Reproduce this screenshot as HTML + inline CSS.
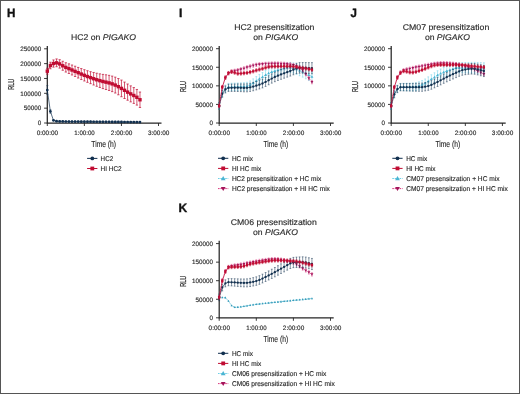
<!DOCTYPE html>
<html><head><meta charset="utf-8"><style>
html,body{margin:0;padding:0;background:#fff;}
body{width:520px;height:394px;overflow:hidden;}
svg{display:block;font-family:"Liberation Sans", sans-serif;will-change:transform;text-rendering:geometricPrecision;}
</style></head><body>
<svg width="520" height="394" viewBox="0 0 520 394">
<rect x="0.5" y="0.5" width="519" height="393" fill="#fff" stroke="#555" stroke-width="1"/>
<text x="6.9" y="16.6" font-size="12" font-weight="bold" fill="#111" stroke="#111" stroke-width="0.35" textLength="8.4" lengthAdjust="spacingAndGlyphs">H</text>
<text x="179.0" y="16.6" font-size="12" font-weight="bold" fill="#111" stroke="#111" stroke-width="0.35" textLength="3.4" lengthAdjust="spacingAndGlyphs">I</text>
<text x="350.4" y="16.6" font-size="12" font-weight="bold" fill="#111" stroke="#111" stroke-width="0.35" textLength="6.4" lengthAdjust="spacingAndGlyphs">J</text>
<text x="178.6" y="211.5" font-size="12" font-weight="bold" fill="#111" stroke="#111" stroke-width="0.35" textLength="8.7" lengthAdjust="spacingAndGlyphs">K</text>
<path d="M47.3,46.1V123.0H161.5" stroke="#262626" stroke-width="1.25" fill="none"/>
<path d="M44.099999999999994,123.00H47.3" stroke="#262626" stroke-width="0.9"/>
<text x="41.20" y="125.30" font-size="6.3" text-anchor="end" fill="#2b2b2b" stroke="#2b2b2b" stroke-width="0.15" >0</text>
<path d="M44.099999999999994,108.16H47.3" stroke="#262626" stroke-width="0.9"/>
<text x="41.20" y="110.46" font-size="6.3" text-anchor="end" fill="#2b2b2b" stroke="#2b2b2b" stroke-width="0.15" >50000</text>
<path d="M44.099999999999994,93.32H47.3" stroke="#262626" stroke-width="0.9"/>
<text x="41.20" y="95.62" font-size="6.3" text-anchor="end" fill="#2b2b2b" stroke="#2b2b2b" stroke-width="0.15" >100000</text>
<path d="M44.099999999999994,78.48H47.3" stroke="#262626" stroke-width="0.9"/>
<text x="41.20" y="80.78" font-size="6.3" text-anchor="end" fill="#2b2b2b" stroke="#2b2b2b" stroke-width="0.15" >150000</text>
<path d="M44.099999999999994,63.64H47.3" stroke="#262626" stroke-width="0.9"/>
<text x="41.20" y="65.94" font-size="6.3" text-anchor="end" fill="#2b2b2b" stroke="#2b2b2b" stroke-width="0.15" >200000</text>
<path d="M44.099999999999994,48.80H47.3" stroke="#262626" stroke-width="0.9"/>
<text x="41.20" y="51.10" font-size="6.3" text-anchor="end" fill="#2b2b2b" stroke="#2b2b2b" stroke-width="0.15" >250000</text>
<path d="M47.30,123.0V126.0" stroke="#262626" stroke-width="0.9"/>
<text x="47.40" y="134.80" font-size="6.3" text-anchor="middle" fill="#2b2b2b" stroke="#2b2b2b" stroke-width="0.15" textLength="21.5" lengthAdjust="spacingAndGlyphs" >0:00:00</text>
<path d="M84.37,123.0V126.0" stroke="#262626" stroke-width="0.9"/>
<text x="84.52" y="134.80" font-size="6.3" text-anchor="middle" fill="#2b2b2b" stroke="#2b2b2b" stroke-width="0.15" textLength="20.5" lengthAdjust="spacingAndGlyphs" >1:00:00</text>
<path d="M121.44,123.0V126.0" stroke="#262626" stroke-width="0.9"/>
<text x="121.59" y="134.80" font-size="6.3" text-anchor="middle" fill="#2b2b2b" stroke="#2b2b2b" stroke-width="0.15" textLength="21.5" lengthAdjust="spacingAndGlyphs" >2:00:00</text>
<path d="M158.51,123.0V126.0" stroke="#262626" stroke-width="0.9"/>
<text x="158.66" y="134.80" font-size="6.3" text-anchor="middle" fill="#2b2b2b" stroke="#2b2b2b" stroke-width="0.15" textLength="21.5" lengthAdjust="spacingAndGlyphs" >3:00:00</text>
<text x="71" y="40.4" font-size="8.3" fill="#2b2b2b" stroke="#2b2b2b" stroke-width="0.15" textLength="65" lengthAdjust="spacingAndGlyphs">HC2 on <tspan font-style="italic">PIGAKO</tspan></text>
<text x="103.70" y="146.80" font-size="8.8" text-anchor="middle" fill="#2b2b2b" stroke="#2b2b2b" stroke-width="0.15" textLength="24.8" lengthAdjust="spacingAndGlyphs" >Time (h)</text>
<text transform="translate(14.30,84.30) rotate(-90) scale(0.64,1)" font-size="8.6" text-anchor="middle" fill="#2b2b2b" stroke="#2b2b2b" stroke-width="0.25">RLU</text>
<path d="M47.30,68.21V74.15M46.15,68.21H48.45M46.15,74.15H48.45M50.39,62.24V68.79M49.24,62.24H51.54M49.24,68.79H51.54M53.48,59.95V67.12M52.33,59.95H54.63M52.33,67.12H54.63M56.57,58.94V66.73M55.42,58.94H57.72M55.42,66.73H57.72M59.66,59.70V68.11M58.51,59.70H60.81M58.51,68.11H60.81M62.75,61.28V70.25M61.60,61.28H63.90M61.60,70.25H63.90M65.83,62.74V72.04M64.68,62.74H66.98M64.68,72.04H66.98M68.92,63.85V73.48M67.77,63.85H70.07M67.77,73.48H70.07M72.01,65.02V74.98M70.86,65.02H73.16M70.86,74.98H73.16M75.10,66.21V76.50M73.95,66.21H76.25M73.95,76.50H76.25M78.19,67.41V78.02M77.04,67.41H79.34M77.04,78.02H79.34M81.28,68.59V79.54M80.13,68.59H82.43M80.13,79.54H82.43M84.37,69.69V80.97M83.22,69.69H85.52M83.22,80.97H85.52M87.46,70.72V82.33M86.31,70.72H88.61M86.31,82.33H88.61M90.55,71.67V83.65M89.40,71.67H91.70M89.40,83.65H91.70M93.64,72.47V85.01M92.49,72.47H94.79M92.49,85.01H94.79M96.73,73.21V86.29M95.58,73.21H97.88M95.58,86.29H97.88M99.82,73.85V87.48M98.67,73.85H100.97M98.67,87.48H100.97M102.91,74.39V88.58M101.75,74.39H104.06M101.75,88.58H104.06M105.99,74.79V89.52M104.84,74.79H107.14M104.84,89.52H107.14M109.08,75.33V90.47M107.93,75.33H110.23M107.93,90.47H110.23M112.17,76.12V91.63M111.02,76.12H113.32M111.02,91.63H113.32M115.26,77.15V93.03M114.11,77.15H116.41M114.11,93.03H116.41M118.35,78.54V94.79M117.20,78.54H119.50M117.20,94.79H119.50M121.44,80.09V96.71M120.29,80.09H122.59M120.29,96.71H122.59M124.53,82.09V98.51M123.38,82.09H125.68M123.38,98.51H125.68M127.62,84.01V100.23M126.47,84.01H128.77M126.47,100.23H128.77M130.71,85.86V101.89M129.56,85.86H131.86M129.56,101.89H131.86M133.80,87.57V103.40M132.65,87.57H134.95M132.65,103.40H134.95M136.89,89.46V105.09M135.74,89.46H138.04M135.74,105.09H138.04M139.97,92.04V107.48M138.82,92.04H141.12M138.82,107.48H141.12" stroke="#c00c32" stroke-width="0.7" fill="none"/>
<path d="M47.30,71.18L50.39,65.52L53.48,63.54L56.57,62.84L59.66,63.90L62.75,65.77L65.83,67.39L68.92,68.67L72.01,70.00L75.10,71.36L78.19,72.71L81.28,74.06L84.37,75.33L87.46,76.53L90.55,77.66L93.64,78.74L96.73,79.75L99.82,80.66L102.91,81.48L105.99,82.16L109.08,82.90L112.17,83.87L115.26,85.09L118.35,86.66L121.44,88.40L124.53,90.30L127.62,92.12L130.71,93.88L133.80,95.49L136.89,97.27L139.97,99.76" stroke="#c00c32" stroke-width="0.9" fill="none"/>
<rect x="45.60" y="69.48" width="3.40" height="3.40" fill="#c00c32"/><rect x="48.69" y="63.82" width="3.40" height="3.40" fill="#c00c32"/><rect x="51.78" y="61.84" width="3.40" height="3.40" fill="#c00c32"/><rect x="54.87" y="61.14" width="3.40" height="3.40" fill="#c00c32"/><rect x="57.96" y="62.20" width="3.40" height="3.40" fill="#c00c32"/><rect x="61.05" y="64.07" width="3.40" height="3.40" fill="#c00c32"/><rect x="64.13" y="65.69" width="3.40" height="3.40" fill="#c00c32"/><rect x="67.22" y="66.97" width="3.40" height="3.40" fill="#c00c32"/><rect x="70.31" y="68.30" width="3.40" height="3.40" fill="#c00c32"/><rect x="73.40" y="69.66" width="3.40" height="3.40" fill="#c00c32"/><rect x="76.49" y="71.01" width="3.40" height="3.40" fill="#c00c32"/><rect x="79.58" y="72.36" width="3.40" height="3.40" fill="#c00c32"/><rect x="82.67" y="73.63" width="3.40" height="3.40" fill="#c00c32"/><rect x="85.76" y="74.83" width="3.40" height="3.40" fill="#c00c32"/><rect x="88.85" y="75.96" width="3.40" height="3.40" fill="#c00c32"/><rect x="91.94" y="77.04" width="3.40" height="3.40" fill="#c00c32"/><rect x="95.03" y="78.05" width="3.40" height="3.40" fill="#c00c32"/><rect x="98.12" y="78.96" width="3.40" height="3.40" fill="#c00c32"/><rect x="101.20" y="79.78" width="3.40" height="3.40" fill="#c00c32"/><rect x="104.29" y="80.46" width="3.40" height="3.40" fill="#c00c32"/><rect x="107.38" y="81.20" width="3.40" height="3.40" fill="#c00c32"/><rect x="110.47" y="82.17" width="3.40" height="3.40" fill="#c00c32"/><rect x="113.56" y="83.39" width="3.40" height="3.40" fill="#c00c32"/><rect x="116.65" y="84.96" width="3.40" height="3.40" fill="#c00c32"/><rect x="119.74" y="86.70" width="3.40" height="3.40" fill="#c00c32"/><rect x="122.83" y="88.60" width="3.40" height="3.40" fill="#c00c32"/><rect x="125.92" y="90.42" width="3.40" height="3.40" fill="#c00c32"/><rect x="129.01" y="92.18" width="3.40" height="3.40" fill="#c00c32"/><rect x="132.10" y="93.79" width="3.40" height="3.40" fill="#c00c32"/><rect x="135.19" y="95.57" width="3.40" height="3.40" fill="#c00c32"/><rect x="138.28" y="98.06" width="3.40" height="3.40" fill="#c00c32"/>
<path d="M47.30,85.60V94.51M46.30,85.60H48.30M46.30,94.51H48.30M50.39,109.69V113.26M49.39,109.69H51.39M49.39,113.26H51.39M53.48,119.73V120.92M52.48,119.73H54.48M52.48,120.92H54.48M56.57,120.63V121.81M55.57,120.63H57.57M55.57,121.81H57.57M59.66,120.78V121.97M58.66,120.78H60.66M58.66,121.97H60.66M62.75,120.87V122.06M61.75,120.87H63.75M61.75,122.06H63.75M65.83,120.92V122.11M64.83,120.92H66.83M64.83,122.11H66.83M68.92,120.96V122.15M67.92,120.96H69.92M67.92,122.15H69.92M72.01,120.99V122.17M71.01,120.99H73.01M71.01,122.17H73.01M75.10,121.01V122.20M74.10,121.01H76.10M74.10,122.20H76.10M78.19,121.03V122.22M77.19,121.03H79.19M77.19,122.22H79.19M81.28,121.05V122.24M80.28,121.05H82.28M80.28,122.24H82.28M84.37,121.07V122.26M83.37,121.07H85.37M83.37,122.26H85.37M87.46,121.10V122.28M86.46,121.10H88.46M86.46,122.28H88.46M90.55,121.12V122.31M89.55,121.12H91.55M89.55,122.31H91.55M93.64,121.14V122.33M92.64,121.14H94.64M92.64,122.33H94.64M96.73,121.17V122.36M95.73,121.17H97.73M95.73,122.36H97.73M99.82,121.19V122.38M98.82,121.19H100.82M98.82,122.38H100.82M102.91,121.22V122.41M101.91,121.22H103.91M101.91,122.41H103.91M105.99,121.24V122.43M104.99,121.24H106.99M104.99,122.43H106.99M109.08,121.27V122.46M108.08,121.27H110.08M108.08,122.46H110.08M112.17,121.29V122.48M111.17,121.29H113.17M111.17,122.48H113.17M115.26,121.32V122.51M114.26,121.32H116.26M114.26,122.51H116.26M118.35,121.34V122.53M117.35,121.34H119.35M117.35,122.53H119.35M121.44,121.37V122.55M120.44,121.37H122.44M120.44,122.55H122.44M124.53,121.39V122.58M123.53,121.39H125.53M123.53,122.58H125.53M127.62,121.42V122.60M126.62,121.42H128.62M126.62,122.60H128.62M130.71,121.44V122.63M129.71,121.44H131.71M129.71,122.63H131.71M133.80,121.47V122.65M132.80,121.47H134.80M132.80,122.65H134.80M136.89,121.49V122.68M135.89,121.49H137.89M135.89,122.68H137.89M139.97,121.52V122.70M138.97,121.52H140.97M138.97,122.70H140.97" stroke="#12304f" stroke-width="0.5" fill="none"/>
<path d="M47.30,90.06L50.39,111.47L53.48,120.32L56.57,121.22L59.66,121.38L62.75,121.47L65.83,121.52L68.92,121.55L72.01,121.58L75.10,121.60L78.19,121.62L81.28,121.64L84.37,121.66L87.46,121.69L90.55,121.71L93.64,121.74L96.73,121.76L99.82,121.79L102.91,121.81L105.99,121.84L109.08,121.86L112.17,121.89L115.26,121.91L118.35,121.94L121.44,121.96L124.53,121.99L127.62,122.01L130.71,122.04L133.80,122.06L136.89,122.08L139.97,122.11" stroke="#12304f" stroke-width="0.7" fill="none"/>
<circle cx="47.30" cy="90.06" r="1.35" fill="#12304f"/><circle cx="50.39" cy="111.47" r="1.35" fill="#12304f"/><circle cx="53.48" cy="120.32" r="1.35" fill="#12304f"/><circle cx="56.57" cy="121.22" r="1.35" fill="#12304f"/><circle cx="59.66" cy="121.38" r="1.35" fill="#12304f"/><circle cx="62.75" cy="121.47" r="1.35" fill="#12304f"/><circle cx="65.83" cy="121.52" r="1.35" fill="#12304f"/><circle cx="68.92" cy="121.55" r="1.35" fill="#12304f"/><circle cx="72.01" cy="121.58" r="1.35" fill="#12304f"/><circle cx="75.10" cy="121.60" r="1.35" fill="#12304f"/><circle cx="78.19" cy="121.62" r="1.35" fill="#12304f"/><circle cx="81.28" cy="121.64" r="1.35" fill="#12304f"/><circle cx="84.37" cy="121.66" r="1.35" fill="#12304f"/><circle cx="87.46" cy="121.69" r="1.35" fill="#12304f"/><circle cx="90.55" cy="121.71" r="1.35" fill="#12304f"/><circle cx="93.64" cy="121.74" r="1.35" fill="#12304f"/><circle cx="96.73" cy="121.76" r="1.35" fill="#12304f"/><circle cx="99.82" cy="121.79" r="1.35" fill="#12304f"/><circle cx="102.91" cy="121.81" r="1.35" fill="#12304f"/><circle cx="105.99" cy="121.84" r="1.35" fill="#12304f"/><circle cx="109.08" cy="121.86" r="1.35" fill="#12304f"/><circle cx="112.17" cy="121.89" r="1.35" fill="#12304f"/><circle cx="115.26" cy="121.91" r="1.35" fill="#12304f"/><circle cx="118.35" cy="121.94" r="1.35" fill="#12304f"/><circle cx="121.44" cy="121.96" r="1.35" fill="#12304f"/><circle cx="124.53" cy="121.99" r="1.35" fill="#12304f"/><circle cx="127.62" cy="122.01" r="1.35" fill="#12304f"/><circle cx="130.71" cy="122.04" r="1.35" fill="#12304f"/><circle cx="133.80" cy="122.06" r="1.35" fill="#12304f"/><circle cx="136.89" cy="122.08" r="1.35" fill="#12304f"/><circle cx="139.97" cy="122.11" r="1.35" fill="#12304f"/>
<path d="M87.1,158.40H97.39999999999999" stroke="#12304f" stroke-width="1"/>
<circle cx="92.30" cy="158.40" r="1.9" fill="#12304f"/>
<text x="100.60" y="160.80" font-size="6.9" text-anchor="start" fill="#2b2b2b" stroke="#2b2b2b" stroke-width="0.15" textLength="12.6" lengthAdjust="spacingAndGlyphs" >HC2</text>
<path d="M87.1,168.50H97.39999999999999" stroke="#c00c32" stroke-width="1"/>
<rect x="90.40" y="166.60" width="3.80" height="3.80" fill="#c00c32"/>
<text x="100.60" y="170.90" font-size="6.9" text-anchor="start" fill="#2b2b2b" stroke="#2b2b2b" stroke-width="0.15" textLength="21.1" lengthAdjust="spacingAndGlyphs" >HI HC2</text>
<path d="M219.2,46.0V123.0H333.7" stroke="#262626" stroke-width="1.25" fill="none"/>
<path d="M216.0,123.00H219.2" stroke="#262626" stroke-width="0.9"/>
<text x="213.00" y="125.30" font-size="6.3" text-anchor="end" fill="#2b2b2b" stroke="#2b2b2b" stroke-width="0.15" >0</text>
<path d="M216.0,104.42H219.2" stroke="#262626" stroke-width="0.9"/>
<text x="213.00" y="106.72" font-size="6.3" text-anchor="end" fill="#2b2b2b" stroke="#2b2b2b" stroke-width="0.15" >50000</text>
<path d="M216.0,85.85H219.2" stroke="#262626" stroke-width="0.9"/>
<text x="213.00" y="88.15" font-size="6.3" text-anchor="end" fill="#2b2b2b" stroke="#2b2b2b" stroke-width="0.15" >100000</text>
<path d="M216.0,67.28H219.2" stroke="#262626" stroke-width="0.9"/>
<text x="213.00" y="69.58" font-size="6.3" text-anchor="end" fill="#2b2b2b" stroke="#2b2b2b" stroke-width="0.15" >150000</text>
<path d="M216.0,48.70H219.2" stroke="#262626" stroke-width="0.9"/>
<text x="213.00" y="51.00" font-size="6.3" text-anchor="end" fill="#2b2b2b" stroke="#2b2b2b" stroke-width="0.15" >200000</text>
<path d="M219.20,123.0V126.0" stroke="#262626" stroke-width="0.9"/>
<text x="219.30" y="134.80" font-size="6.3" text-anchor="middle" fill="#2b2b2b" stroke="#2b2b2b" stroke-width="0.15" textLength="21.5" lengthAdjust="spacingAndGlyphs" >0:00:00</text>
<path d="M256.30,123.0V126.0" stroke="#262626" stroke-width="0.9"/>
<text x="256.45" y="134.80" font-size="6.3" text-anchor="middle" fill="#2b2b2b" stroke="#2b2b2b" stroke-width="0.15" textLength="20.5" lengthAdjust="spacingAndGlyphs" >1:00:00</text>
<path d="M293.40,123.0V126.0" stroke="#262626" stroke-width="0.9"/>
<text x="293.55" y="134.80" font-size="6.3" text-anchor="middle" fill="#2b2b2b" stroke="#2b2b2b" stroke-width="0.15" textLength="21.5" lengthAdjust="spacingAndGlyphs" >2:00:00</text>
<path d="M330.50,123.0V126.0" stroke="#262626" stroke-width="0.9"/>
<text x="330.65" y="134.80" font-size="6.3" text-anchor="middle" fill="#2b2b2b" stroke="#2b2b2b" stroke-width="0.15" textLength="21.5" lengthAdjust="spacingAndGlyphs" >3:00:00</text>
<text x="274.30" y="30.40" font-size="8.3" text-anchor="middle" fill="#2b2b2b" stroke="#2b2b2b" stroke-width="0.15" textLength="80.2" lengthAdjust="spacingAndGlyphs" >HC2 presensitization</text>
<text x="275.80" y="40.00" font-size="8.3" text-anchor="middle" fill="#2b2b2b" stroke="#2b2b2b" stroke-width="0.15" textLength="45" lengthAdjust="spacingAndGlyphs">on <tspan font-style="italic">PIGAKO</tspan></text>
<text x="275.80" y="146.80" font-size="8.8" text-anchor="middle" fill="#2b2b2b" stroke="#2b2b2b" stroke-width="0.15" textLength="24.8" lengthAdjust="spacingAndGlyphs" >Time (h)</text>
<text transform="translate(186.10,86.50) rotate(-90) scale(0.64,1)" font-size="8.6" text-anchor="middle" fill="#2b2b2b" stroke="#2b2b2b" stroke-width="0.25">RLU</text>
<path d="M219.20,102.57V109.25M218.30,102.57H220.10M218.30,109.25H220.10M222.29,89.65V96.48M221.39,89.65H223.19M221.39,96.48H223.19M225.38,85.08V92.06M224.48,85.08H226.28M224.48,92.06H226.28M228.47,83.39V90.52M227.57,83.39H229.38M227.57,90.52H229.38M231.57,83.20V90.49M230.67,83.20H232.47M230.67,90.49H232.47M234.66,83.07V90.50M233.76,83.07H235.56M233.76,90.50H235.56M237.75,82.97V90.54M236.85,82.97H238.65M236.85,90.54H238.65M240.84,82.85V90.58M239.94,82.85H241.74M239.94,90.58H241.74M243.93,82.70V90.58M243.03,82.70H244.83M243.03,90.58H244.83M247.02,82.28V90.31M246.12,82.28H247.92M246.12,90.31H247.92M250.12,80.91V89.08M249.22,80.91H251.02M249.22,89.08H251.02M253.21,78.88V87.20M252.31,78.88H254.11M252.31,87.20H254.11M256.30,76.60V85.07M255.40,76.60H257.20M255.40,85.07H257.20M259.39,74.47V83.09M258.49,74.47H260.29M258.49,83.09H260.29M262.48,72.57V81.33M261.58,72.57H263.38M261.58,81.33H263.38M265.57,70.56V79.47M264.68,70.56H266.47M264.68,79.47H266.47M268.67,68.70V77.76M267.77,68.70H269.57M267.77,77.76H269.57M271.76,67.27V76.48M270.86,67.27H272.66M270.86,76.48H272.66M274.85,66.19V75.55M273.95,66.19H275.75M273.95,75.55H275.75M277.94,65.28V74.79M277.04,65.28H278.84M277.04,74.79H278.84M281.03,64.41V74.07M280.13,64.41H281.93M280.13,74.07H281.93M284.12,63.44V73.25M283.23,63.44H285.02M283.23,73.25H285.02M287.22,62.64V72.59M286.32,62.64H288.12M286.32,72.59H288.12M290.31,62.35V72.46M289.41,62.35H291.21M289.41,72.46H291.21M293.40,62.87V73.12M292.50,62.87H294.30M292.50,73.12H294.30M296.49,63.94V74.34M295.59,63.94H297.39M295.59,74.34H297.39M299.58,65.20V75.75M298.68,65.20H300.48M298.68,75.75H300.48M302.68,66.44V77.14M301.78,66.44H303.57M301.78,77.14H303.57M305.77,67.93V78.78M304.87,67.93H306.67M304.87,78.78H306.67M308.86,69.55V80.55M307.96,69.55H309.76M307.96,80.55H309.76M311.95,71.14V82.28M311.05,71.14H312.85M311.05,82.28H312.85" stroke="#6ccfe6" stroke-width="0.5" fill="none"/>
<path d="M219.20,105.91L222.29,93.06L225.38,88.57L228.47,86.96L231.57,86.84L234.66,86.79L237.75,86.75L240.84,86.72L243.93,86.64L247.02,86.29L250.12,84.99L253.21,83.04L256.30,80.83L259.39,78.78L262.48,76.95L265.57,75.01L268.67,73.23L271.76,71.87L274.85,70.87L277.94,70.03L281.03,69.24L284.12,68.35L287.22,67.61L290.31,67.41L293.40,67.99L296.49,69.14L299.58,70.48L302.68,71.79L305.77,73.35L308.86,75.05L311.95,76.71" stroke="#6ccfe6" stroke-width="0.7" fill="none" stroke-dasharray="1.5,1"/>
<path d="M219.20,104.47L220.64,106.95L217.76,106.95Z" fill="#4ab4d2"/><path d="M222.29,91.63L223.73,94.10L220.85,94.10Z" fill="#4ab4d2"/><path d="M225.38,87.13L226.82,89.61L223.95,89.61Z" fill="#4ab4d2"/><path d="M228.47,85.52L229.91,87.99L227.04,87.99Z" fill="#4ab4d2"/><path d="M231.57,85.41L233.00,87.88L230.13,87.88Z" fill="#4ab4d2"/><path d="M234.66,85.35L236.10,87.82L233.22,87.82Z" fill="#4ab4d2"/><path d="M237.75,85.32L239.19,87.79L236.31,87.79Z" fill="#4ab4d2"/><path d="M240.84,85.28L242.28,87.75L239.40,87.75Z" fill="#4ab4d2"/><path d="M243.93,85.20L245.37,87.68L242.50,87.68Z" fill="#4ab4d2"/><path d="M247.02,84.86L248.46,87.33L245.59,87.33Z" fill="#4ab4d2"/><path d="M250.12,83.56L251.55,86.03L248.68,86.03Z" fill="#4ab4d2"/><path d="M253.21,81.60L254.65,84.08L251.77,84.08Z" fill="#4ab4d2"/><path d="M256.30,79.40L257.74,81.87L254.86,81.87Z" fill="#4ab4d2"/><path d="M259.39,77.34L260.83,79.81L257.95,79.81Z" fill="#4ab4d2"/><path d="M262.48,75.51L263.92,77.98L261.05,77.98Z" fill="#4ab4d2"/><path d="M265.57,73.58L267.01,76.05L264.14,76.05Z" fill="#4ab4d2"/><path d="M268.67,71.80L270.10,74.27L267.23,74.27Z" fill="#4ab4d2"/><path d="M271.76,70.44L273.20,72.91L270.32,72.91Z" fill="#4ab4d2"/><path d="M274.85,69.43L276.29,71.91L273.41,71.91Z" fill="#4ab4d2"/><path d="M277.94,68.60L279.38,71.07L276.50,71.07Z" fill="#4ab4d2"/><path d="M281.03,67.80L282.47,70.28L279.60,70.28Z" fill="#4ab4d2"/><path d="M284.12,66.91L285.56,69.38L282.69,69.38Z" fill="#4ab4d2"/><path d="M287.22,66.18L288.65,68.65L285.78,68.65Z" fill="#4ab4d2"/><path d="M290.31,65.97L291.75,68.44L288.87,68.44Z" fill="#4ab4d2"/><path d="M293.40,66.56L294.84,69.03L291.96,69.03Z" fill="#4ab4d2"/><path d="M296.49,67.70L297.93,70.17L295.05,70.17Z" fill="#4ab4d2"/><path d="M299.58,69.04L301.02,71.51L298.15,71.51Z" fill="#4ab4d2"/><path d="M302.68,70.36L304.11,72.83L301.24,72.83Z" fill="#4ab4d2"/><path d="M305.77,71.92L307.20,74.39L304.33,74.39Z" fill="#4ab4d2"/><path d="M308.86,73.61L310.30,76.08L307.42,76.08Z" fill="#4ab4d2"/><path d="M311.95,75.27L313.39,77.75L310.51,77.75Z" fill="#4ab4d2"/>
<path d="M219.20,104.24V107.58M218.30,104.24H220.10M218.30,107.58H220.10M222.29,85.61V88.96M221.39,85.61H223.19M221.39,88.96H223.19M225.38,76.09V79.44M224.48,76.09H226.28M224.48,79.44H226.28M228.47,71.44V74.78M227.57,71.44H229.38M227.57,74.78H229.38M231.57,69.97V73.32M230.67,69.97H232.47M230.67,73.32H232.47M234.66,69.19V72.53M233.76,69.19H235.56M233.76,72.53H235.56M237.75,68.54V71.88M236.85,68.54H238.65M236.85,71.88H238.65M240.84,67.70V71.05M239.94,67.70H241.74M239.94,71.05H241.74M243.93,66.74V70.09M243.03,66.74H244.83M243.03,70.09H244.83M247.02,65.73V69.08M246.12,65.73H247.92M246.12,69.08H247.92M250.12,64.75V68.09M249.22,64.75H251.02M249.22,68.09H251.02M253.21,63.86V67.21M252.31,63.86H254.11M252.31,67.21H254.11M256.30,63.15V66.50M255.40,63.15H257.20M255.40,66.50H257.20M259.39,62.69V66.03M258.49,62.69H260.29M258.49,66.03H260.29M262.48,62.44V65.78M261.58,62.44H263.38M261.58,65.78H263.38M265.57,62.22V65.56M264.68,62.22H266.47M264.68,65.56H266.47M268.67,62.05V65.39M267.77,62.05H269.57M267.77,65.39H269.57M271.76,61.93V65.27M270.86,61.93H272.66M270.86,65.27H272.66M274.85,61.89V65.23M273.95,61.89H275.75M273.95,65.23H275.75M277.94,61.93V65.27M277.04,61.93H278.84M277.04,65.27H278.84M281.03,62.04V65.38M280.13,62.04H281.93M280.13,65.38H281.93M284.12,62.21V65.55M283.23,62.21H285.02M283.23,65.55H285.02M287.22,62.44V65.79M286.32,62.44H288.12M286.32,65.79H288.12M290.31,62.74V66.09M289.41,62.74H291.21M289.41,66.09H291.21M293.40,63.48V66.82M292.50,63.48H294.30M292.50,66.82H294.30M296.49,64.71V68.05M295.59,64.71H297.39M295.59,68.05H297.39M299.58,66.28V69.62M298.68,66.28H300.48M298.68,69.62H300.48M302.68,68.74V72.08M301.78,68.74H303.57M301.78,72.08H303.57M305.77,72.40V75.74M304.87,72.40H306.67M304.87,75.74H306.67M308.86,76.54V79.89M307.96,76.54H309.76M307.96,79.89H309.76M311.95,80.46V83.81M311.05,80.46H312.85M311.05,83.81H312.85" stroke="#d8357c" stroke-width="0.5" fill="none"/>
<path d="M219.20,105.91L222.29,87.29L225.38,77.77L228.47,73.11L231.57,71.64L234.66,70.86L237.75,70.21L240.84,69.37L243.93,68.42L247.02,67.41L250.12,66.42L253.21,65.54L256.30,64.82L259.39,64.36L262.48,64.11L265.57,63.89L268.67,63.72L271.76,63.60L274.85,63.56L277.94,63.60L281.03,63.71L284.12,63.88L287.22,64.12L290.31,64.41L293.40,65.15L296.49,66.38L299.58,67.95L302.68,70.41L305.77,74.07L308.86,78.22L311.95,82.13" stroke="#d8357c" stroke-width="0.7" fill="none" stroke-dasharray="1.5,1"/>
<path d="M219.20,107.35L220.64,104.88L217.76,104.88Z" fill="#a3145a"/><path d="M222.29,88.72L223.73,86.25L220.85,86.25Z" fill="#a3145a"/><path d="M225.38,79.20L226.82,76.73L223.95,76.73Z" fill="#a3145a"/><path d="M228.47,74.55L229.91,72.07L227.04,72.07Z" fill="#a3145a"/><path d="M231.57,73.08L233.00,70.61L230.13,70.61Z" fill="#a3145a"/><path d="M234.66,72.30L236.10,69.83L233.22,69.83Z" fill="#a3145a"/><path d="M237.75,71.65L239.19,69.17L236.31,69.17Z" fill="#a3145a"/><path d="M240.84,70.81L242.28,68.34L239.40,68.34Z" fill="#a3145a"/><path d="M243.93,69.85L245.37,67.38L242.50,67.38Z" fill="#a3145a"/><path d="M247.02,68.84L248.46,66.37L245.59,66.37Z" fill="#a3145a"/><path d="M250.12,67.86L251.55,65.39L248.68,65.39Z" fill="#a3145a"/><path d="M253.21,66.97L254.65,64.50L251.77,64.50Z" fill="#a3145a"/><path d="M256.30,66.26L257.74,63.79L254.86,63.79Z" fill="#a3145a"/><path d="M259.39,65.80L260.83,63.32L257.95,63.32Z" fill="#a3145a"/><path d="M262.48,65.55L263.92,63.07L261.05,63.07Z" fill="#a3145a"/><path d="M265.57,65.33L267.01,62.86L264.14,62.86Z" fill="#a3145a"/><path d="M268.67,65.16L270.10,62.68L267.23,62.68Z" fill="#a3145a"/><path d="M271.76,65.04L273.20,62.57L270.32,62.57Z" fill="#a3145a"/><path d="M274.85,65.00L276.29,62.53L273.41,62.53Z" fill="#a3145a"/><path d="M277.94,65.04L279.38,62.56L276.50,62.56Z" fill="#a3145a"/><path d="M281.03,65.15L282.47,62.67L279.60,62.67Z" fill="#a3145a"/><path d="M284.12,65.32L285.56,62.85L282.69,62.85Z" fill="#a3145a"/><path d="M287.22,65.55L288.65,63.08L285.78,63.08Z" fill="#a3145a"/><path d="M290.31,65.85L291.75,63.38L288.87,63.38Z" fill="#a3145a"/><path d="M293.40,66.59L294.84,64.11L291.96,64.11Z" fill="#a3145a"/><path d="M296.49,67.82L297.93,65.35L295.05,65.35Z" fill="#a3145a"/><path d="M299.58,69.39L301.02,66.92L298.15,66.92Z" fill="#a3145a"/><path d="M302.68,71.85L304.11,69.37L301.24,69.37Z" fill="#a3145a"/><path d="M305.77,75.51L307.20,73.03L304.33,73.03Z" fill="#a3145a"/><path d="M308.86,79.65L310.30,77.18L307.42,77.18Z" fill="#a3145a"/><path d="M311.95,83.57L313.39,81.10L310.51,81.10Z" fill="#a3145a"/>
<path d="M219.20,102.57V109.25M218.30,102.57H220.10M218.30,109.25H220.10M222.29,90.44V97.28M221.39,90.44H223.19M221.39,97.28H223.19M225.38,85.98V92.96M224.48,85.98H226.28M224.48,92.96H226.28M228.47,84.32V91.45M227.57,84.32H229.38M227.57,91.45H229.38M231.57,84.14V91.43M230.67,84.14H232.47M230.67,91.43H232.47M234.66,84.01V91.44M233.76,84.01H235.56M233.76,91.44H235.56M237.75,83.92V91.50M236.85,83.92H238.65M236.85,91.50H238.65M240.84,83.91V91.64M239.94,83.91H241.74M239.94,91.64H241.74M243.93,83.94V91.82M243.03,83.94H244.83M243.03,91.82H244.83M247.02,83.80V91.82M246.12,83.80H247.92M246.12,91.82H247.92M250.12,83.26V91.43M249.22,83.26H251.02M249.22,91.43H251.02M253.21,82.42V90.75M252.31,82.42H254.11M252.31,90.75H254.11M256.30,81.41V89.88M255.40,81.41H257.20M255.40,89.88H257.20M259.39,80.33V88.95M258.49,80.33H260.29M258.49,88.95H260.29M262.48,79.11V87.88M261.58,79.11H263.38M261.58,87.88H263.38M265.57,77.51V86.42M264.68,77.51H266.47M264.68,86.42H266.47M268.67,75.71V84.78M267.77,75.71H269.57M267.77,84.78H269.57M271.76,73.92V83.13M270.86,73.92H272.66M270.86,83.13H272.66M274.85,72.33V81.69M273.95,72.33H275.75M273.95,81.69H275.75M277.94,70.94V80.45M277.04,70.94H278.84M277.04,80.45H278.84M281.03,69.63V79.29M280.13,69.63H281.93M280.13,79.29H281.93M284.12,68.38V78.19M283.23,68.38H285.02M283.23,78.19H285.02M287.22,67.17V77.12M286.32,67.17H288.12M286.32,77.12H288.12M290.31,65.96V76.07M289.41,65.96H291.21M289.41,76.07H291.21M293.40,64.55V74.80M292.50,64.55H294.30M292.50,74.80H294.30M296.49,63.24V73.64M295.59,63.24H297.39M295.59,73.64H297.39M299.58,62.60V73.15M298.68,62.60H300.48M298.68,73.15H300.48M302.68,62.55V73.25M301.78,62.55H303.57M301.78,73.25H303.57M305.77,62.57V73.42M304.87,62.57H306.67M304.87,73.42H306.67M308.86,62.61V73.60M307.96,62.61H309.76M307.96,73.60H309.76M311.95,62.63V73.78M311.05,62.63H312.85M311.05,73.78H312.85" stroke="#12304f" stroke-width="0.5" fill="none"/>
<path d="M219.20,105.91L222.29,93.86L225.38,89.47L228.47,87.89L231.57,87.79L234.66,87.73L237.75,87.71L240.84,87.78L243.93,87.88L247.02,87.81L250.12,87.35L253.21,86.58L256.30,85.64L259.39,84.64L262.48,83.49L265.57,81.97L268.67,80.25L271.76,78.53L274.85,77.01L277.94,75.70L281.03,74.46L284.12,73.28L287.22,72.14L290.31,71.02L293.40,69.67L296.49,68.44L299.58,67.87L302.68,67.90L305.77,67.99L308.86,68.10L311.95,68.20" stroke="#12304f" stroke-width="0.7" fill="none"/>
<circle cx="219.20" cy="105.91" r="1.15" fill="#12304f"/><circle cx="222.29" cy="93.86" r="1.15" fill="#12304f"/><circle cx="225.38" cy="89.47" r="1.15" fill="#12304f"/><circle cx="228.47" cy="87.89" r="1.15" fill="#12304f"/><circle cx="231.57" cy="87.79" r="1.15" fill="#12304f"/><circle cx="234.66" cy="87.73" r="1.15" fill="#12304f"/><circle cx="237.75" cy="87.71" r="1.15" fill="#12304f"/><circle cx="240.84" cy="87.78" r="1.15" fill="#12304f"/><circle cx="243.93" cy="87.88" r="1.15" fill="#12304f"/><circle cx="247.02" cy="87.81" r="1.15" fill="#12304f"/><circle cx="250.12" cy="87.35" r="1.15" fill="#12304f"/><circle cx="253.21" cy="86.58" r="1.15" fill="#12304f"/><circle cx="256.30" cy="85.64" r="1.15" fill="#12304f"/><circle cx="259.39" cy="84.64" r="1.15" fill="#12304f"/><circle cx="262.48" cy="83.49" r="1.15" fill="#12304f"/><circle cx="265.57" cy="81.97" r="1.15" fill="#12304f"/><circle cx="268.67" cy="80.25" r="1.15" fill="#12304f"/><circle cx="271.76" cy="78.53" r="1.15" fill="#12304f"/><circle cx="274.85" cy="77.01" r="1.15" fill="#12304f"/><circle cx="277.94" cy="75.70" r="1.15" fill="#12304f"/><circle cx="281.03" cy="74.46" r="1.15" fill="#12304f"/><circle cx="284.12" cy="73.28" r="1.15" fill="#12304f"/><circle cx="287.22" cy="72.14" r="1.15" fill="#12304f"/><circle cx="290.31" cy="71.02" r="1.15" fill="#12304f"/><circle cx="293.40" cy="69.67" r="1.15" fill="#12304f"/><circle cx="296.49" cy="68.44" r="1.15" fill="#12304f"/><circle cx="299.58" cy="67.87" r="1.15" fill="#12304f"/><circle cx="302.68" cy="67.90" r="1.15" fill="#12304f"/><circle cx="305.77" cy="67.99" r="1.15" fill="#12304f"/><circle cx="308.86" cy="68.10" r="1.15" fill="#12304f"/><circle cx="311.95" cy="68.20" r="1.15" fill="#12304f"/>
<path d="M219.20,104.24V107.58M218.30,104.24H220.10M218.30,107.58H220.10M222.29,85.46V88.81M221.39,85.46H223.19M221.39,88.81H223.19M225.38,75.88V79.22M224.48,75.88H226.28M224.48,79.22H226.28M228.47,71.47V74.82M227.57,71.47H229.38M227.57,74.82H229.38M231.57,70.07V73.41M230.67,70.07H232.47M230.67,73.41H232.47M234.66,70.98V74.33M233.76,70.98H235.56M233.76,74.33H235.56M237.75,71.91V75.25M236.85,71.91H238.65M236.85,75.25H238.65M240.84,71.80V75.15M239.94,71.80H241.74M239.94,75.15H241.74M243.93,71.49V74.84M243.03,71.49H244.83M243.03,74.84H244.83M247.02,71.10V74.44M246.12,71.10H247.92M246.12,74.44H247.92M250.12,70.46V73.80M249.22,70.46H251.02M249.22,73.80H251.02M253.21,69.63V72.97M252.31,69.63H254.11M252.31,72.97H254.11M256.30,68.71V72.06M255.40,68.71H257.20M255.40,72.06H257.20M259.39,67.82V71.16M258.49,67.82H260.29M258.49,71.16H260.29M262.48,66.97V70.31M261.58,66.97H263.38M261.58,70.31H263.38M265.57,65.98V69.32M264.68,65.98H266.47M264.68,69.32H266.47M268.67,65.15V68.49M267.77,65.15H269.57M267.77,68.49H269.57M271.76,64.85V68.19M270.86,64.85H272.66M270.86,68.19H272.66M274.85,64.79V68.13M273.95,64.79H275.75M273.95,68.13H275.75M277.94,64.75V68.09M277.04,64.75H278.84M277.04,68.09H278.84M281.03,64.71V68.06M280.13,64.71H281.93M280.13,68.06H281.93M284.12,64.69V68.03M283.23,64.69H285.02M283.23,68.03H285.02M287.22,64.68V68.02M286.32,64.68H288.12M286.32,68.02H288.12M290.31,64.68V68.02M289.41,64.68H291.21M289.41,68.02H291.21M293.40,64.89V68.24M292.50,64.89H294.30M292.50,68.24H294.30M296.49,65.31V68.65M295.59,65.31H297.39M295.59,68.65H297.39M299.58,65.79V69.13M298.68,65.79H300.48M298.68,69.13H300.48M302.68,66.27V69.61M301.78,66.27H303.57M301.78,69.61H303.57M305.77,66.83V70.18M304.87,66.83H306.67M304.87,70.18H306.67M308.86,67.45V70.79M307.96,67.45H309.76M307.96,70.79H309.76M311.95,68.06V71.40M311.05,68.06H312.85M311.05,71.40H312.85" stroke="#c00c32" stroke-width="0.5" fill="none"/>
<path d="M219.20,105.91L222.29,87.14L225.38,77.55L228.47,73.14L231.57,71.74L234.66,72.66L237.75,73.58L240.84,73.48L243.93,73.17L247.02,72.77L250.12,72.13L253.21,71.30L256.30,70.39L259.39,69.49L262.48,68.64L265.57,67.65L268.67,66.82L271.76,66.52L274.85,66.46L277.94,66.42L281.03,66.38L284.12,66.36L287.22,66.35L290.31,66.35L293.40,66.56L296.49,66.98L299.58,67.46L302.68,67.94L305.77,68.51L308.86,69.12L311.95,69.73" stroke="#c00c32" stroke-width="0.7" fill="none"/>
<rect x="218.05" y="104.76" width="2.30" height="2.30" fill="#c00c32"/><rect x="221.14" y="85.99" width="2.30" height="2.30" fill="#c00c32"/><rect x="224.23" y="76.40" width="2.30" height="2.30" fill="#c00c32"/><rect x="227.32" y="71.99" width="2.30" height="2.30" fill="#c00c32"/><rect x="230.42" y="70.59" width="2.30" height="2.30" fill="#c00c32"/><rect x="233.51" y="71.51" width="2.30" height="2.30" fill="#c00c32"/><rect x="236.60" y="72.43" width="2.30" height="2.30" fill="#c00c32"/><rect x="239.69" y="72.33" width="2.30" height="2.30" fill="#c00c32"/><rect x="242.78" y="72.02" width="2.30" height="2.30" fill="#c00c32"/><rect x="245.87" y="71.62" width="2.30" height="2.30" fill="#c00c32"/><rect x="248.97" y="70.98" width="2.30" height="2.30" fill="#c00c32"/><rect x="252.06" y="70.15" width="2.30" height="2.30" fill="#c00c32"/><rect x="255.15" y="69.24" width="2.30" height="2.30" fill="#c00c32"/><rect x="258.24" y="68.34" width="2.30" height="2.30" fill="#c00c32"/><rect x="261.33" y="67.49" width="2.30" height="2.30" fill="#c00c32"/><rect x="264.43" y="66.50" width="2.30" height="2.30" fill="#c00c32"/><rect x="267.52" y="65.67" width="2.30" height="2.30" fill="#c00c32"/><rect x="270.61" y="65.37" width="2.30" height="2.30" fill="#c00c32"/><rect x="273.70" y="65.31" width="2.30" height="2.30" fill="#c00c32"/><rect x="276.79" y="65.27" width="2.30" height="2.30" fill="#c00c32"/><rect x="279.88" y="65.23" width="2.30" height="2.30" fill="#c00c32"/><rect x="282.98" y="65.21" width="2.30" height="2.30" fill="#c00c32"/><rect x="286.07" y="65.20" width="2.30" height="2.30" fill="#c00c32"/><rect x="289.16" y="65.20" width="2.30" height="2.30" fill="#c00c32"/><rect x="292.25" y="65.41" width="2.30" height="2.30" fill="#c00c32"/><rect x="295.34" y="65.83" width="2.30" height="2.30" fill="#c00c32"/><rect x="298.43" y="66.31" width="2.30" height="2.30" fill="#c00c32"/><rect x="301.53" y="66.79" width="2.30" height="2.30" fill="#c00c32"/><rect x="304.62" y="67.36" width="2.30" height="2.30" fill="#c00c32"/><rect x="307.71" y="67.97" width="2.30" height="2.30" fill="#c00c32"/><rect x="310.80" y="68.58" width="2.30" height="2.30" fill="#c00c32"/>
<path d="M218.0,158.30H228.3" stroke="#12304f" stroke-width="1"/>
<circle cx="223.20" cy="158.30" r="1.9" fill="#12304f"/>
<text x="231.90" y="160.70" font-size="7.0" text-anchor="start" fill="#2b2b2b" stroke="#2b2b2b" stroke-width="0.15" textLength="21.0" lengthAdjust="spacingAndGlyphs" >HC mix</text>
<path d="M218.0,168.40H228.3" stroke="#c00c32" stroke-width="1"/>
<rect x="221.30" y="166.50" width="3.80" height="3.80" fill="#c00c32"/>
<text x="231.90" y="170.80" font-size="7.0" text-anchor="start" fill="#2b2b2b" stroke="#2b2b2b" stroke-width="0.15" textLength="29.3" lengthAdjust="spacingAndGlyphs" >HI HC mix</text>
<path d="M218.0,178.50H228.3" stroke="#6ccfe6" stroke-width="1" stroke-dasharray="1.6,0.8"/>
<path d="M223.20,176.12L225.57,180.21L220.82,180.21Z" fill="#4ab4d2"/>
<text x="231.90" y="180.90" font-size="7.0" text-anchor="start" fill="#2b2b2b" stroke="#2b2b2b" stroke-width="0.15" textLength="89.4" lengthAdjust="spacingAndGlyphs" >HC2 presensitization + HC mix</text>
<path d="M218.0,188.60H228.3" stroke="#d8357c" stroke-width="1" stroke-dasharray="1.6,0.8"/>
<path d="M223.20,190.98L225.57,186.89L220.82,186.89Z" fill="#a3145a"/>
<text x="231.90" y="191.00" font-size="7.0" text-anchor="start" fill="#2b2b2b" stroke="#2b2b2b" stroke-width="0.15" textLength="98.0" lengthAdjust="spacingAndGlyphs" >HC2 presensitization + HI HC mix</text>
<path d="M391.2,46.0V123.0H505.7" stroke="#262626" stroke-width="1.25" fill="none"/>
<path d="M388.0,123.00H391.2" stroke="#262626" stroke-width="0.9"/>
<text x="385.00" y="125.30" font-size="6.3" text-anchor="end" fill="#2b2b2b" stroke="#2b2b2b" stroke-width="0.15" >0</text>
<path d="M388.0,104.42H391.2" stroke="#262626" stroke-width="0.9"/>
<text x="385.00" y="106.72" font-size="6.3" text-anchor="end" fill="#2b2b2b" stroke="#2b2b2b" stroke-width="0.15" >50000</text>
<path d="M388.0,85.85H391.2" stroke="#262626" stroke-width="0.9"/>
<text x="385.00" y="88.15" font-size="6.3" text-anchor="end" fill="#2b2b2b" stroke="#2b2b2b" stroke-width="0.15" >100000</text>
<path d="M388.0,67.28H391.2" stroke="#262626" stroke-width="0.9"/>
<text x="385.00" y="69.58" font-size="6.3" text-anchor="end" fill="#2b2b2b" stroke="#2b2b2b" stroke-width="0.15" >150000</text>
<path d="M388.0,48.70H391.2" stroke="#262626" stroke-width="0.9"/>
<text x="385.00" y="51.00" font-size="6.3" text-anchor="end" fill="#2b2b2b" stroke="#2b2b2b" stroke-width="0.15" >200000</text>
<path d="M391.20,123.0V126.0" stroke="#262626" stroke-width="0.9"/>
<text x="391.30" y="134.80" font-size="6.3" text-anchor="middle" fill="#2b2b2b" stroke="#2b2b2b" stroke-width="0.15" textLength="21.5" lengthAdjust="spacingAndGlyphs" >0:00:00</text>
<path d="M428.27,123.0V126.0" stroke="#262626" stroke-width="0.9"/>
<text x="428.42" y="134.80" font-size="6.3" text-anchor="middle" fill="#2b2b2b" stroke="#2b2b2b" stroke-width="0.15" textLength="20.5" lengthAdjust="spacingAndGlyphs" >1:00:00</text>
<path d="M465.34,123.0V126.0" stroke="#262626" stroke-width="0.9"/>
<text x="465.49" y="134.80" font-size="6.3" text-anchor="middle" fill="#2b2b2b" stroke="#2b2b2b" stroke-width="0.15" textLength="21.5" lengthAdjust="spacingAndGlyphs" >2:00:00</text>
<path d="M502.41,123.0V126.0" stroke="#262626" stroke-width="0.9"/>
<text x="502.56" y="134.80" font-size="6.3" text-anchor="middle" fill="#2b2b2b" stroke="#2b2b2b" stroke-width="0.15" textLength="21.5" lengthAdjust="spacingAndGlyphs" >3:00:00</text>
<text x="446.00" y="30.40" font-size="8.3" text-anchor="middle" fill="#2b2b2b" stroke="#2b2b2b" stroke-width="0.15" textLength="86.5" lengthAdjust="spacingAndGlyphs" >CM07 presensitization</text>
<text x="447.40" y="40.00" font-size="8.3" text-anchor="middle" fill="#2b2b2b" stroke="#2b2b2b" stroke-width="0.15" textLength="45" lengthAdjust="spacingAndGlyphs">on <tspan font-style="italic">PIGAKO</tspan></text>
<text x="447.80" y="146.80" font-size="8.8" text-anchor="middle" fill="#2b2b2b" stroke="#2b2b2b" stroke-width="0.15" textLength="24.8" lengthAdjust="spacingAndGlyphs" >Time (h)</text>
<text transform="translate(358.10,86.50) rotate(-90) scale(0.64,1)" font-size="8.6" text-anchor="middle" fill="#2b2b2b" stroke="#2b2b2b" stroke-width="0.25">RLU</text>
<path d="M391.20,102.57V109.25M390.30,102.57H392.10M390.30,109.25H392.10M394.29,90.28V97.11M393.39,90.28H395.19M393.39,97.11H395.19M397.38,85.22V92.21M396.48,85.22H398.28M396.48,92.21H398.28M400.47,83.40V90.53M399.57,83.40H401.37M399.57,90.53H401.37M403.56,83.32V90.61M402.66,83.32H404.46M402.66,90.61H404.46M406.65,83.25V90.68M405.75,83.25H407.55M405.75,90.68H407.55M409.74,83.18V90.75M408.84,83.18H410.63M408.84,90.75H410.63M412.82,83.10V90.83M411.92,83.10H413.72M411.92,90.83H413.72M415.91,82.76V90.63M415.01,82.76H416.81M415.01,90.63H416.81M419.00,81.80V89.83M418.10,81.80H419.90M418.10,89.83H419.90M422.09,80.60V88.78M421.19,80.60H422.99M421.19,88.78H422.99M425.18,78.97V87.29M424.28,78.97H426.08M424.28,87.29H426.08M428.27,76.87V85.34M427.37,76.87H429.17M427.37,85.34H429.17M431.36,74.78V83.40M430.46,74.78H432.26M430.46,83.40H432.26M434.45,72.76V81.53M433.55,72.76H435.35M433.55,81.53H435.35M437.54,70.75V79.67M436.64,70.75H438.44M436.64,79.67H438.44M440.63,69.00V78.06M439.73,69.00H441.53M439.73,78.06H441.53M443.72,67.51V76.73M442.82,67.51H444.62M442.82,76.73H444.62M446.81,66.19V75.56M445.91,66.19H447.70M445.91,75.56H447.70M449.89,65.08V74.59M448.99,65.08H450.79M448.99,74.59H450.79M452.98,64.02V73.67M452.08,64.02H453.88M452.08,73.67H453.88M456.07,63.09V72.89M455.17,63.09H456.97M455.17,72.89H456.97M459.16,62.67V72.62M458.26,62.67H460.06M458.26,72.62H460.06M462.25,62.59V72.70M461.35,62.59H463.15M461.35,72.70H463.15M465.34,62.52V72.77M464.44,62.52H466.24M464.44,72.77H466.24M468.43,62.45V72.85M467.53,62.45H469.33M467.53,72.85H469.33M471.52,62.37V72.92M470.62,62.37H472.42M470.62,72.92H472.42M474.61,62.33V73.03M473.71,62.33H475.51M473.71,73.03H475.51M477.70,62.45V73.30M476.80,62.45H478.60M476.80,73.30H478.60M480.79,62.64V73.64M479.89,62.64H481.69M479.89,73.64H481.69M483.88,62.82V73.96M482.98,62.82H484.77M482.98,73.96H484.77" stroke="#6ccfe6" stroke-width="0.5" fill="none"/>
<path d="M391.20,105.91L394.29,93.69L397.38,88.72L400.47,86.96L403.56,86.96L406.65,86.96L409.74,86.96L412.82,86.96L415.91,86.70L419.00,85.81L422.09,84.69L425.18,83.13L428.27,81.10L431.36,79.09L434.45,77.14L437.54,75.21L440.63,73.53L443.72,72.12L446.81,70.88L449.89,69.84L452.98,68.85L456.07,67.99L459.16,67.65L462.25,67.65L465.34,67.65L468.43,67.65L471.52,67.65L474.61,67.68L477.70,67.87L480.79,68.14L483.88,68.39" stroke="#6ccfe6" stroke-width="0.7" fill="none" stroke-dasharray="1.5,1"/>
<path d="M391.20,104.47L392.64,106.95L389.76,106.95Z" fill="#4ab4d2"/><path d="M394.29,92.26L395.73,94.73L392.85,94.73Z" fill="#4ab4d2"/><path d="M397.38,87.28L398.82,89.75L395.94,89.75Z" fill="#4ab4d2"/><path d="M400.47,85.53L401.90,88.00L399.03,88.00Z" fill="#4ab4d2"/><path d="M403.56,85.53L404.99,88.00L402.12,88.00Z" fill="#4ab4d2"/><path d="M406.65,85.53L408.08,88.00L405.21,88.00Z" fill="#4ab4d2"/><path d="M409.74,85.53L411.17,88.00L408.30,88.00Z" fill="#4ab4d2"/><path d="M412.82,85.53L414.26,88.00L411.39,88.00Z" fill="#4ab4d2"/><path d="M415.91,85.26L417.35,87.73L414.48,87.73Z" fill="#4ab4d2"/><path d="M419.00,84.38L420.44,86.85L417.56,86.85Z" fill="#4ab4d2"/><path d="M422.09,83.25L423.53,85.72L420.65,85.72Z" fill="#4ab4d2"/><path d="M425.18,81.69L426.62,84.17L423.74,84.17Z" fill="#4ab4d2"/><path d="M428.27,79.66L429.71,82.14L426.83,82.14Z" fill="#4ab4d2"/><path d="M431.36,77.65L432.80,80.12L429.92,80.12Z" fill="#4ab4d2"/><path d="M434.45,75.71L435.89,78.18L433.01,78.18Z" fill="#4ab4d2"/><path d="M437.54,73.77L438.97,76.24L436.10,76.24Z" fill="#4ab4d2"/><path d="M440.63,72.09L442.06,74.57L439.19,74.57Z" fill="#4ab4d2"/><path d="M443.72,70.68L445.15,73.15L442.28,73.15Z" fill="#4ab4d2"/><path d="M446.81,69.44L448.24,71.91L445.37,71.91Z" fill="#4ab4d2"/><path d="M449.89,68.40L451.33,70.87L448.46,70.87Z" fill="#4ab4d2"/><path d="M452.98,67.41L454.42,69.88L451.55,69.88Z" fill="#4ab4d2"/><path d="M456.07,66.55L457.51,69.03L454.63,69.03Z" fill="#4ab4d2"/><path d="M459.16,66.21L460.60,68.68L457.72,68.68Z" fill="#4ab4d2"/><path d="M462.25,66.21L463.69,68.68L460.81,68.68Z" fill="#4ab4d2"/><path d="M465.34,66.21L466.78,68.68L463.90,68.68Z" fill="#4ab4d2"/><path d="M468.43,66.21L469.87,68.68L466.99,68.68Z" fill="#4ab4d2"/><path d="M471.52,66.21L472.96,68.68L470.08,68.68Z" fill="#4ab4d2"/><path d="M474.61,66.25L476.04,68.72L473.17,68.72Z" fill="#4ab4d2"/><path d="M477.70,66.44L479.13,68.91L476.26,68.91Z" fill="#4ab4d2"/><path d="M480.79,66.70L482.22,69.18L479.35,69.18Z" fill="#4ab4d2"/><path d="M483.88,66.95L485.31,69.42L482.44,69.42Z" fill="#4ab4d2"/>
<path d="M391.20,104.24V107.58M390.30,104.24H392.10M390.30,107.58H392.10M394.29,85.61V88.96M393.39,85.61H395.19M393.39,88.96H395.19M397.38,75.72V79.07M396.48,75.72H398.28M396.48,79.07H398.28M400.47,71.08V74.42M399.57,71.08H401.37M399.57,74.42H401.37M403.56,68.73V72.07M402.66,68.73H404.46M402.66,72.07H404.46M406.65,67.78V71.12M405.75,67.78H407.55M405.75,71.12H407.55M409.74,67.09V70.43M408.84,67.09H410.63M408.84,70.43H410.63M412.82,66.36V69.70M411.92,66.36H413.72M411.92,69.70H413.72M415.91,65.68V69.02M415.01,65.68H416.81M415.01,69.02H416.81M419.00,65.06V68.41M418.10,65.06H419.90M418.10,68.41H419.90M422.09,64.50V67.84M421.19,64.50H422.99M421.19,67.84H422.99M425.18,63.90V67.24M424.28,63.90H426.08M424.28,67.24H426.08M428.27,63.29V66.64M427.37,63.29H429.17M427.37,66.64H429.17M431.36,62.72V66.06M430.46,62.72H432.26M430.46,66.06H432.26M434.45,62.22V65.56M433.55,62.22H435.35M433.55,65.56H435.35M437.54,61.83V65.17M436.64,61.83H438.44M436.64,65.17H438.44M440.63,61.58V64.93M439.73,61.58H441.53M439.73,64.93H441.53M443.72,61.52V64.86M442.82,61.52H444.62M442.82,64.86H444.62M446.81,61.63V64.97M445.91,61.63H447.70M445.91,64.97H447.70M449.89,61.85V65.19M448.99,61.85H450.79M448.99,65.19H450.79M452.98,62.14V65.48M452.08,62.14H453.88M452.08,65.48H453.88M456.07,62.49V65.83M455.17,62.49H456.97M455.17,65.83H456.97M459.16,63.02V66.36M458.26,63.02H460.06M458.26,66.36H460.06M462.25,63.71V67.05M461.35,63.71H463.15M461.35,67.05H463.15M465.34,64.52V67.87M464.44,64.52H466.24M464.44,67.87H466.24M468.43,65.42V68.76M467.53,65.42H469.33M467.53,68.76H469.33M471.52,66.46V69.80M470.62,66.46H472.42M470.62,69.80H472.42M474.61,67.78V71.13M473.71,67.78H475.51M473.71,71.13H475.51M477.70,69.28V72.62M476.80,69.28H478.60M476.80,72.62H478.60M480.79,70.82V74.16M479.89,70.82H481.69M479.89,74.16H481.69M483.88,72.29V75.63M482.98,72.29H484.77M482.98,75.63H484.77" stroke="#d8357c" stroke-width="0.5" fill="none"/>
<path d="M391.20,105.91L394.29,87.28L397.38,77.40L400.47,72.75L403.56,70.40L406.65,69.45L409.74,68.76L412.82,68.03L415.91,67.35L419.00,66.73L422.09,66.17L425.18,65.57L428.27,64.96L431.36,64.39L434.45,63.89L437.54,63.50L440.63,63.25L443.72,63.19L446.81,63.30L449.89,63.52L452.98,63.81L456.07,64.16L459.16,64.69L462.25,65.38L465.34,66.20L468.43,67.09L471.52,68.13L474.61,69.46L477.70,70.95L480.79,72.49L483.88,73.96" stroke="#d8357c" stroke-width="0.7" fill="none" stroke-dasharray="1.5,1"/>
<path d="M391.20,107.35L392.64,104.88L389.76,104.88Z" fill="#a3145a"/><path d="M394.29,88.72L395.73,86.25L392.85,86.25Z" fill="#a3145a"/><path d="M397.38,78.83L398.82,76.36L395.94,76.36Z" fill="#a3145a"/><path d="M400.47,74.19L401.90,71.71L399.03,71.71Z" fill="#a3145a"/><path d="M403.56,71.84L404.99,69.37L402.12,69.37Z" fill="#a3145a"/><path d="M406.65,70.89L408.08,68.42L405.21,68.42Z" fill="#a3145a"/><path d="M409.74,70.20L411.17,67.73L408.30,67.73Z" fill="#a3145a"/><path d="M412.82,69.47L414.26,66.99L411.39,66.99Z" fill="#a3145a"/><path d="M415.91,68.79L417.35,66.31L414.48,66.31Z" fill="#a3145a"/><path d="M419.00,68.17L420.44,65.70L417.56,65.70Z" fill="#a3145a"/><path d="M422.09,67.61L423.53,65.13L420.65,65.13Z" fill="#a3145a"/><path d="M425.18,67.01L426.62,64.53L423.74,64.53Z" fill="#a3145a"/><path d="M428.27,66.40L429.71,63.93L426.83,63.93Z" fill="#a3145a"/><path d="M431.36,65.83L432.80,63.36L429.92,63.36Z" fill="#a3145a"/><path d="M434.45,65.33L435.89,62.86L433.01,62.86Z" fill="#a3145a"/><path d="M437.54,64.94L438.97,62.46L436.10,62.46Z" fill="#a3145a"/><path d="M440.63,64.69L442.06,62.22L439.19,62.22Z" fill="#a3145a"/><path d="M443.72,64.63L445.15,62.16L442.28,62.16Z" fill="#a3145a"/><path d="M446.81,64.74L448.24,62.26L445.37,62.26Z" fill="#a3145a"/><path d="M449.89,64.96L451.33,62.48L448.46,62.48Z" fill="#a3145a"/><path d="M452.98,65.25L454.42,62.77L451.55,62.77Z" fill="#a3145a"/><path d="M456.07,65.59L457.51,63.12L454.63,63.12Z" fill="#a3145a"/><path d="M459.16,66.13L460.60,63.65L457.72,63.65Z" fill="#a3145a"/><path d="M462.25,66.82L463.69,64.35L460.81,64.35Z" fill="#a3145a"/><path d="M465.34,67.63L466.78,65.16L463.90,65.16Z" fill="#a3145a"/><path d="M468.43,68.53L469.87,66.05L466.99,66.05Z" fill="#a3145a"/><path d="M471.52,69.57L472.96,67.10L470.08,67.10Z" fill="#a3145a"/><path d="M474.61,70.89L476.04,68.42L473.17,68.42Z" fill="#a3145a"/><path d="M477.70,72.39L479.13,69.92L476.26,69.92Z" fill="#a3145a"/><path d="M480.79,73.93L482.22,71.46L479.35,71.46Z" fill="#a3145a"/><path d="M483.88,75.40L485.31,72.93L482.44,72.93Z" fill="#a3145a"/>
<path d="M391.20,102.57V109.25M390.30,102.57H392.10M390.30,109.25H392.10M394.29,90.98V97.81M393.39,90.98H395.19M393.39,97.81H395.19M397.38,85.67V92.65M396.48,85.67H398.28M396.48,92.65H398.28M400.47,83.70V90.83M399.57,83.70H401.37M399.57,90.83H401.37M403.56,83.62V90.90M402.66,83.62H404.46M402.66,90.90H404.46M406.65,83.55V90.98M405.75,83.55H407.55M405.75,90.98H407.55M409.74,83.47V91.05M408.84,83.47H410.63M408.84,91.05H410.63M412.82,83.40V91.13M411.92,83.40H413.72M411.92,91.13H413.72M415.91,83.32V91.20M415.01,83.32H416.81M415.01,91.20H416.81M419.00,83.25V91.27M418.10,83.25H419.90M418.10,91.27H419.90M422.09,83.07V91.25M421.19,83.07H422.99M421.19,91.25H422.99M425.18,82.53V90.86M424.28,82.53H426.08M424.28,90.86H426.08M428.27,81.81V90.28M427.37,81.81H429.17M427.37,90.28H429.17M431.36,80.61V89.22M430.46,80.61H432.26M430.46,89.22H432.26M434.45,79.08V87.84M433.55,79.08H435.35M433.55,87.84H435.35M437.54,77.52V86.44M436.64,77.52H438.44M436.64,86.44H438.44M440.63,75.81V84.88M439.73,75.81H441.53M439.73,84.88H441.53M443.72,74.08V83.29M442.82,74.08H444.62M442.82,83.29H444.62M446.81,72.44V81.80M445.91,72.44H447.70M445.91,81.80H447.70M449.89,70.84V80.35M448.99,70.84H450.79M448.99,80.35H450.79M452.98,69.31V78.97M452.08,69.31H453.88M452.08,78.97H453.88M456.07,67.84V77.64M455.17,67.84H456.97M455.17,77.64H456.97M459.16,66.33V76.28M458.26,66.33H460.06M458.26,76.28H460.06M462.25,65.11V75.22M461.35,65.11H463.15M461.35,75.22H463.15M465.34,64.41V74.67M464.44,64.41H466.24M464.44,74.67H466.24M468.43,63.86V74.26M467.53,63.86H469.33M467.53,74.26H469.33M471.52,63.51V74.06M470.62,63.51H472.42M470.62,74.06H472.42M474.61,63.52V74.22M473.71,63.52H475.51M473.71,74.22H475.51M477.70,64.02V74.87M476.80,64.02H478.60M476.80,74.87H478.60M480.79,64.75V75.74M479.89,64.75H481.69M479.89,75.74H481.69M483.88,65.42V76.56M482.98,65.42H484.77M482.98,76.56H484.77" stroke="#12304f" stroke-width="0.5" fill="none"/>
<path d="M391.20,105.91L394.29,94.40L397.38,89.16L400.47,87.26L403.56,87.26L406.65,87.26L409.74,87.26L412.82,87.26L415.91,87.26L419.00,87.26L422.09,87.16L425.18,86.70L428.27,86.04L431.36,84.91L434.45,83.46L437.54,81.98L440.63,80.34L443.72,78.68L446.81,77.12L449.89,75.60L452.98,74.14L456.07,72.74L459.16,71.30L462.25,70.17L465.34,69.54L468.43,69.06L471.52,68.79L474.61,68.87L477.70,69.45L480.79,70.25L483.88,70.99" stroke="#12304f" stroke-width="0.7" fill="none"/>
<circle cx="391.20" cy="105.91" r="1.15" fill="#12304f"/><circle cx="394.29" cy="94.40" r="1.15" fill="#12304f"/><circle cx="397.38" cy="89.16" r="1.15" fill="#12304f"/><circle cx="400.47" cy="87.26" r="1.15" fill="#12304f"/><circle cx="403.56" cy="87.26" r="1.15" fill="#12304f"/><circle cx="406.65" cy="87.26" r="1.15" fill="#12304f"/><circle cx="409.74" cy="87.26" r="1.15" fill="#12304f"/><circle cx="412.82" cy="87.26" r="1.15" fill="#12304f"/><circle cx="415.91" cy="87.26" r="1.15" fill="#12304f"/><circle cx="419.00" cy="87.26" r="1.15" fill="#12304f"/><circle cx="422.09" cy="87.16" r="1.15" fill="#12304f"/><circle cx="425.18" cy="86.70" r="1.15" fill="#12304f"/><circle cx="428.27" cy="86.04" r="1.15" fill="#12304f"/><circle cx="431.36" cy="84.91" r="1.15" fill="#12304f"/><circle cx="434.45" cy="83.46" r="1.15" fill="#12304f"/><circle cx="437.54" cy="81.98" r="1.15" fill="#12304f"/><circle cx="440.63" cy="80.34" r="1.15" fill="#12304f"/><circle cx="443.72" cy="78.68" r="1.15" fill="#12304f"/><circle cx="446.81" cy="77.12" r="1.15" fill="#12304f"/><circle cx="449.89" cy="75.60" r="1.15" fill="#12304f"/><circle cx="452.98" cy="74.14" r="1.15" fill="#12304f"/><circle cx="456.07" cy="72.74" r="1.15" fill="#12304f"/><circle cx="459.16" cy="71.30" r="1.15" fill="#12304f"/><circle cx="462.25" cy="70.17" r="1.15" fill="#12304f"/><circle cx="465.34" cy="69.54" r="1.15" fill="#12304f"/><circle cx="468.43" cy="69.06" r="1.15" fill="#12304f"/><circle cx="471.52" cy="68.79" r="1.15" fill="#12304f"/><circle cx="474.61" cy="68.87" r="1.15" fill="#12304f"/><circle cx="477.70" cy="69.45" r="1.15" fill="#12304f"/><circle cx="480.79" cy="70.25" r="1.15" fill="#12304f"/><circle cx="483.88" cy="70.99" r="1.15" fill="#12304f"/>
<path d="M391.20,104.24V107.58M390.30,104.24H392.10M390.30,107.58H392.10M394.29,85.61V88.96M393.39,85.61H395.19M393.39,88.96H395.19M397.38,75.91V79.25M396.48,75.91H398.28M396.48,79.25H398.28M400.47,71.12V74.47M399.57,71.12H401.37M399.57,74.47H401.37M403.56,69.44V72.79M402.66,69.44H404.46M402.66,72.79H404.46M406.65,69.94V73.28M405.75,69.94H407.55M405.75,73.28H407.55M409.74,70.61V73.96M408.84,70.61H410.63M408.84,73.96H410.63M412.82,70.75V74.09M411.92,70.75H413.72M411.92,74.09H413.72M415.91,70.09V73.43M415.01,70.09H416.81M415.01,73.43H416.81M419.00,69.09V72.44M418.10,69.09H419.90M418.10,72.44H419.90M422.09,68.16V71.50M421.19,68.16H422.99M421.19,71.50H422.99M425.18,67.00V70.35M424.28,67.00H426.08M424.28,70.35H426.08M428.27,65.73V69.07M427.37,65.73H429.17M427.37,69.07H429.17M431.36,64.53V67.87M430.46,64.53H432.26M430.46,67.87H432.26M434.45,63.61V66.95M433.55,63.61H435.35M433.55,66.95H435.35M437.54,63.17V66.51M436.64,63.17H438.44M436.64,66.51H438.44M440.63,63.15V66.49M439.73,63.15H441.53M439.73,66.49H441.53M443.72,63.15V66.49M442.82,63.15H444.62M442.82,66.49H444.62M446.81,63.15V66.49M445.91,63.15H447.70M445.91,66.49H447.70M449.89,63.15V66.49M448.99,63.15H450.79M448.99,66.49H450.79M452.98,63.15V66.49M452.08,63.15H453.88M452.08,66.49H453.88M456.07,63.16V66.51M455.17,63.16H456.97M455.17,66.51H456.97M459.16,63.26V66.61M458.26,63.26H460.06M458.26,66.61H460.06M462.25,63.44V66.79M461.35,63.44H463.15M461.35,66.79H463.15M465.34,63.69V67.03M464.44,63.69H466.24M464.44,67.03H466.24M468.43,63.99V67.33M467.53,63.99H469.33M467.53,67.33H469.33M471.52,64.32V67.66M470.62,64.32H472.42M470.62,67.66H472.42M474.61,64.66V68.00M473.71,64.66H475.51M473.71,68.00H475.51M477.70,65.00V68.34M476.80,65.00H478.60M476.80,68.34H478.60M480.79,65.32V68.66M479.89,65.32H481.69M479.89,68.66H481.69M483.88,65.60V68.95M482.98,65.60H484.77M482.98,68.95H484.77" stroke="#c00c32" stroke-width="0.5" fill="none"/>
<path d="M391.20,105.91L394.29,87.29L397.38,77.58L400.47,72.80L403.56,71.11L406.65,71.61L409.74,72.29L412.82,72.42L415.91,71.76L419.00,70.77L422.09,69.83L425.18,68.68L428.27,67.40L431.36,66.20L434.45,65.28L437.54,64.84L440.63,64.82L443.72,64.82L446.81,64.82L449.89,64.82L452.98,64.82L456.07,64.84L459.16,64.93L462.25,65.11L465.34,65.36L468.43,65.66L471.52,65.99L474.61,66.33L477.70,66.67L480.79,66.99L483.88,67.28" stroke="#c00c32" stroke-width="0.7" fill="none"/>
<rect x="390.05" y="104.76" width="2.30" height="2.30" fill="#c00c32"/><rect x="393.14" y="86.14" width="2.30" height="2.30" fill="#c00c32"/><rect x="396.23" y="76.43" width="2.30" height="2.30" fill="#c00c32"/><rect x="399.32" y="71.65" width="2.30" height="2.30" fill="#c00c32"/><rect x="402.41" y="69.96" width="2.30" height="2.30" fill="#c00c32"/><rect x="405.50" y="70.46" width="2.30" height="2.30" fill="#c00c32"/><rect x="408.59" y="71.14" width="2.30" height="2.30" fill="#c00c32"/><rect x="411.67" y="71.27" width="2.30" height="2.30" fill="#c00c32"/><rect x="414.76" y="70.61" width="2.30" height="2.30" fill="#c00c32"/><rect x="417.85" y="69.62" width="2.30" height="2.30" fill="#c00c32"/><rect x="420.94" y="68.68" width="2.30" height="2.30" fill="#c00c32"/><rect x="424.03" y="67.53" width="2.30" height="2.30" fill="#c00c32"/><rect x="427.12" y="66.25" width="2.30" height="2.30" fill="#c00c32"/><rect x="430.21" y="65.05" width="2.30" height="2.30" fill="#c00c32"/><rect x="433.30" y="64.13" width="2.30" height="2.30" fill="#c00c32"/><rect x="436.39" y="63.69" width="2.30" height="2.30" fill="#c00c32"/><rect x="439.48" y="63.67" width="2.30" height="2.30" fill="#c00c32"/><rect x="442.57" y="63.67" width="2.30" height="2.30" fill="#c00c32"/><rect x="445.66" y="63.67" width="2.30" height="2.30" fill="#c00c32"/><rect x="448.74" y="63.67" width="2.30" height="2.30" fill="#c00c32"/><rect x="451.83" y="63.67" width="2.30" height="2.30" fill="#c00c32"/><rect x="454.92" y="63.69" width="2.30" height="2.30" fill="#c00c32"/><rect x="458.01" y="63.78" width="2.30" height="2.30" fill="#c00c32"/><rect x="461.10" y="63.96" width="2.30" height="2.30" fill="#c00c32"/><rect x="464.19" y="64.21" width="2.30" height="2.30" fill="#c00c32"/><rect x="467.28" y="64.51" width="2.30" height="2.30" fill="#c00c32"/><rect x="470.37" y="64.84" width="2.30" height="2.30" fill="#c00c32"/><rect x="473.46" y="65.18" width="2.30" height="2.30" fill="#c00c32"/><rect x="476.55" y="65.52" width="2.30" height="2.30" fill="#c00c32"/><rect x="479.64" y="65.84" width="2.30" height="2.30" fill="#c00c32"/><rect x="482.73" y="66.12" width="2.30" height="2.30" fill="#c00c32"/>
<path d="M392.3,158.30H402.6" stroke="#12304f" stroke-width="1"/>
<circle cx="397.50" cy="158.30" r="1.9" fill="#12304f"/>
<text x="406.20" y="160.70" font-size="7.0" text-anchor="start" fill="#2b2b2b" stroke="#2b2b2b" stroke-width="0.15" textLength="21.0" lengthAdjust="spacingAndGlyphs" >HC mix</text>
<path d="M392.3,168.40H402.6" stroke="#c00c32" stroke-width="1"/>
<rect x="395.60" y="166.50" width="3.80" height="3.80" fill="#c00c32"/>
<text x="406.20" y="170.80" font-size="7.0" text-anchor="start" fill="#2b2b2b" stroke="#2b2b2b" stroke-width="0.15" textLength="29.3" lengthAdjust="spacingAndGlyphs" >HI HC mix</text>
<path d="M392.3,178.50H402.6" stroke="#6ccfe6" stroke-width="1" stroke-dasharray="1.6,0.8"/>
<path d="M397.50,176.12L399.88,180.21L395.12,180.21Z" fill="#4ab4d2"/>
<text x="406.20" y="180.90" font-size="7.0" text-anchor="start" fill="#2b2b2b" stroke="#2b2b2b" stroke-width="0.15" textLength="93.4" lengthAdjust="spacingAndGlyphs" >CM07 presensitzation + HC mix</text>
<path d="M392.3,188.60H402.6" stroke="#d8357c" stroke-width="1" stroke-dasharray="1.6,0.8"/>
<path d="M397.50,190.98L399.88,186.89L395.12,186.89Z" fill="#a3145a"/>
<text x="406.20" y="191.00" font-size="7.0" text-anchor="start" fill="#2b2b2b" stroke="#2b2b2b" stroke-width="0.15" textLength="101.6" lengthAdjust="spacingAndGlyphs" >CM07 presensitzation + HI HC mix</text>
<path d="M219.2,240.8V317.8H333.7" stroke="#262626" stroke-width="1.25" fill="none"/>
<path d="M216.0,317.80H219.2" stroke="#262626" stroke-width="0.9"/>
<text x="213.00" y="320.10" font-size="6.3" text-anchor="end" fill="#2b2b2b" stroke="#2b2b2b" stroke-width="0.15" >0</text>
<path d="M216.0,299.25H219.2" stroke="#262626" stroke-width="0.9"/>
<text x="213.00" y="301.55" font-size="6.3" text-anchor="end" fill="#2b2b2b" stroke="#2b2b2b" stroke-width="0.15" >50000</text>
<path d="M216.0,280.70H219.2" stroke="#262626" stroke-width="0.9"/>
<text x="213.00" y="283.00" font-size="6.3" text-anchor="end" fill="#2b2b2b" stroke="#2b2b2b" stroke-width="0.15" >100000</text>
<path d="M216.0,262.15H219.2" stroke="#262626" stroke-width="0.9"/>
<text x="213.00" y="264.45" font-size="6.3" text-anchor="end" fill="#2b2b2b" stroke="#2b2b2b" stroke-width="0.15" >150000</text>
<path d="M216.0,243.60H219.2" stroke="#262626" stroke-width="0.9"/>
<text x="213.00" y="245.90" font-size="6.3" text-anchor="end" fill="#2b2b2b" stroke="#2b2b2b" stroke-width="0.15" >200000</text>
<path d="M219.20,317.8V320.8" stroke="#262626" stroke-width="0.9"/>
<text x="219.30" y="329.60" font-size="6.3" text-anchor="middle" fill="#2b2b2b" stroke="#2b2b2b" stroke-width="0.15" textLength="21.5" lengthAdjust="spacingAndGlyphs" >0:00:00</text>
<path d="M256.30,317.8V320.8" stroke="#262626" stroke-width="0.9"/>
<text x="256.45" y="329.60" font-size="6.3" text-anchor="middle" fill="#2b2b2b" stroke="#2b2b2b" stroke-width="0.15" textLength="20.5" lengthAdjust="spacingAndGlyphs" >1:00:00</text>
<path d="M293.40,317.8V320.8" stroke="#262626" stroke-width="0.9"/>
<text x="293.55" y="329.60" font-size="6.3" text-anchor="middle" fill="#2b2b2b" stroke="#2b2b2b" stroke-width="0.15" textLength="21.5" lengthAdjust="spacingAndGlyphs" >2:00:00</text>
<path d="M330.50,317.8V320.8" stroke="#262626" stroke-width="0.9"/>
<text x="330.65" y="329.60" font-size="6.3" text-anchor="middle" fill="#2b2b2b" stroke="#2b2b2b" stroke-width="0.15" textLength="21.5" lengthAdjust="spacingAndGlyphs" >3:00:00</text>
<text x="273.80" y="225.40" font-size="8.3" text-anchor="middle" fill="#2b2b2b" stroke="#2b2b2b" stroke-width="0.15" textLength="86.0" lengthAdjust="spacingAndGlyphs" >CM06 presensitization</text>
<text x="275.50" y="235.00" font-size="8.3" text-anchor="middle" fill="#2b2b2b" stroke="#2b2b2b" stroke-width="0.15" textLength="45" lengthAdjust="spacingAndGlyphs">on <tspan font-style="italic">PIGAKO</tspan></text>
<text x="275.80" y="341.60" font-size="8.8" text-anchor="middle" fill="#2b2b2b" stroke="#2b2b2b" stroke-width="0.15" textLength="24.8" lengthAdjust="spacingAndGlyphs" >Time (h)</text>
<text transform="translate(186.10,281.30) rotate(-90) scale(0.64,1)" font-size="8.6" text-anchor="middle" fill="#2b2b2b" stroke="#2b2b2b" stroke-width="0.25">RLU</text>
<path d="M219.20,296.95V297.84M218.60,296.95H219.80M218.60,297.84H219.80M222.29,297.00V297.89M221.69,297.00H222.89M221.69,297.89H222.89M225.38,297.21V298.10M224.78,297.21H225.98M224.78,298.10H225.98M228.47,300.56V301.45M227.88,300.56H229.07M227.88,301.45H229.07M231.57,305.16V306.05M230.97,305.16H232.17M230.97,306.05H232.17M234.66,306.85V307.74M234.06,306.85H235.26M234.06,307.74H235.26M237.75,306.69V307.59M237.15,306.69H238.35M237.15,307.59H238.35M240.84,306.36V307.25M240.24,306.36H241.44M240.24,307.25H241.44M243.93,305.90V306.79M243.33,305.90H244.53M243.33,306.79H244.53M247.02,305.36V306.25M246.42,305.36H247.62M246.42,306.25H247.62M250.12,304.81V305.70M249.52,304.81H250.72M249.52,305.70H250.72M253.21,304.28V305.17M252.61,304.28H253.81M252.61,305.17H253.81M256.30,303.85V304.74M255.70,303.85H256.90M255.70,304.74H256.90M259.39,303.48V304.38M258.79,303.48H259.99M258.79,304.38H259.99M262.48,303.13V304.02M261.88,303.13H263.08M261.88,304.02H263.08M265.57,302.79V303.68M264.97,302.79H266.18M264.97,303.68H266.18M268.67,302.45V303.34M268.07,302.45H269.27M268.07,303.34H269.27M271.76,302.13V303.02M271.16,302.13H272.36M271.16,303.02H272.36M274.85,301.80V302.69M274.25,301.80H275.45M274.25,302.69H275.45M277.94,301.48V302.37M277.34,301.48H278.54M277.34,302.37H278.54M281.03,301.17V302.06M280.43,301.17H281.63M280.43,302.06H281.63M284.12,300.85V301.74M283.52,300.85H284.73M283.52,301.74H284.73M287.22,300.53V301.42M286.62,300.53H287.82M286.62,301.42H287.82M290.31,300.21V301.10M289.71,300.21H290.91M289.71,301.10H290.91M293.40,299.90V300.79M292.80,299.90H294.00M292.80,300.79H294.00M296.49,299.59V300.48M295.89,299.59H297.09M295.89,300.48H297.09M299.58,299.29V300.18M298.98,299.29H300.18M298.98,300.18H300.18M302.68,298.98V299.87M302.07,298.98H303.28M302.07,299.87H303.28M305.77,298.68V299.57M305.17,298.68H306.37M305.17,299.57H306.37M308.86,298.37V299.26M308.26,298.37H309.46M308.26,299.26H309.46M311.95,298.06V298.95M311.35,298.06H312.55M311.35,298.95H312.55" stroke="#4cb8d2" stroke-width="0.4" fill="none"/>
<path d="M219.20,297.39L222.29,297.44L225.38,297.65L228.47,301.00L231.57,305.60L234.66,307.30L237.75,307.14L240.84,306.80L243.93,306.34L247.02,305.81L250.12,305.25L253.21,304.73L256.30,304.30L259.39,303.93L262.48,303.58L265.57,303.23L268.67,302.90L271.76,302.57L274.85,302.25L277.94,301.93L281.03,301.61L284.12,301.29L287.22,300.97L290.31,300.66L293.40,300.35L296.49,300.04L299.58,299.73L302.68,299.43L305.77,299.12L308.86,298.82L311.95,298.51" stroke="#4cb8d2" stroke-width="0.8" fill="none" stroke-dasharray="1.5,1"/>
<path d="M219.20,296.33L220.26,298.16L218.14,298.16Z" fill="#3a9ab8"/><path d="M222.29,296.38L223.35,298.21L221.23,298.21Z" fill="#3a9ab8"/><path d="M225.38,296.59L226.45,298.42L224.32,298.42Z" fill="#3a9ab8"/><path d="M228.47,299.94L229.54,301.77L227.41,301.77Z" fill="#3a9ab8"/><path d="M231.57,304.54L232.63,306.37L230.50,306.37Z" fill="#3a9ab8"/><path d="M234.66,306.23L235.72,308.06L233.60,308.06Z" fill="#3a9ab8"/><path d="M237.75,306.08L238.81,307.91L236.69,307.91Z" fill="#3a9ab8"/><path d="M240.84,305.74L241.90,307.57L239.78,307.57Z" fill="#3a9ab8"/><path d="M243.93,305.28L245.00,307.11L242.87,307.11Z" fill="#3a9ab8"/><path d="M247.02,304.74L248.09,306.57L245.96,306.57Z" fill="#3a9ab8"/><path d="M250.12,304.19L251.18,306.02L249.05,306.02Z" fill="#3a9ab8"/><path d="M253.21,303.67L254.27,305.49L252.15,305.49Z" fill="#3a9ab8"/><path d="M256.30,303.23L257.36,305.06L255.24,305.06Z" fill="#3a9ab8"/><path d="M259.39,302.87L260.45,304.69L258.33,304.69Z" fill="#3a9ab8"/><path d="M262.48,302.51L263.55,304.34L261.42,304.34Z" fill="#3a9ab8"/><path d="M265.57,302.17L266.64,304.00L264.51,304.00Z" fill="#3a9ab8"/><path d="M268.67,301.84L269.73,303.66L267.60,303.66Z" fill="#3a9ab8"/><path d="M271.76,301.51L272.82,303.34L270.70,303.34Z" fill="#3a9ab8"/><path d="M274.85,301.19L275.91,303.01L273.79,303.01Z" fill="#3a9ab8"/><path d="M277.94,300.87L279.00,302.69L276.88,302.69Z" fill="#3a9ab8"/><path d="M281.03,300.55L282.10,302.38L279.97,302.38Z" fill="#3a9ab8"/><path d="M284.12,300.23L285.19,302.06L283.06,302.06Z" fill="#3a9ab8"/><path d="M287.22,299.91L288.28,301.74L286.15,301.74Z" fill="#3a9ab8"/><path d="M290.31,299.60L291.37,301.42L289.25,301.42Z" fill="#3a9ab8"/><path d="M293.40,299.28L294.46,301.11L292.34,301.11Z" fill="#3a9ab8"/><path d="M296.49,298.98L297.55,300.80L295.43,300.80Z" fill="#3a9ab8"/><path d="M299.58,298.67L300.65,300.50L298.52,300.50Z" fill="#3a9ab8"/><path d="M302.68,298.37L303.74,300.19L301.61,300.19Z" fill="#3a9ab8"/><path d="M305.77,298.06L306.83,299.89L304.70,299.89Z" fill="#3a9ab8"/><path d="M308.86,297.75L309.92,299.58L307.80,299.58Z" fill="#3a9ab8"/><path d="M311.95,297.45L313.01,299.27L310.89,299.27Z" fill="#3a9ab8"/>
<path d="M219.20,295.73V299.06M218.30,295.73H220.10M218.30,299.06H220.10M222.29,278.81V282.15M221.39,278.81H223.19M221.39,282.15H223.19M225.38,269.61V272.95M224.48,269.61H226.28M224.48,272.95H226.28M228.47,265.30V268.64M227.57,265.30H229.38M227.57,268.64H229.38M231.57,264.38V267.72M230.67,264.38H232.47M230.67,267.72H232.47M234.66,263.85V267.19M233.76,263.85H235.56M233.76,267.19H235.56M237.75,263.44V266.78M236.85,263.44H238.65M236.85,266.78H238.65M240.84,262.91V266.25M239.94,262.91H241.74M239.94,266.25H241.74M243.93,262.28V265.62M243.03,262.28H244.83M243.03,265.62H244.83M247.02,261.65V264.98M246.12,261.65H247.92M246.12,264.98H247.92M250.12,261.02V264.36M249.22,261.02H251.02M249.22,264.36H251.02M253.21,260.43V263.77M252.31,260.43H254.11M252.31,263.77H254.11M256.30,259.85V263.19M255.40,259.85H257.20M255.40,263.19H257.20M259.39,259.29V262.63M258.49,259.29H260.29M258.49,262.63H260.29M262.48,258.79V262.13M261.58,258.79H263.38M261.58,262.13H263.38M265.57,258.38V261.72M264.68,258.38H266.47M264.68,261.72H266.47M268.67,257.97V261.31M267.77,257.97H269.57M267.77,261.31H269.57M271.76,257.64V260.98M270.86,257.64H272.66M270.86,260.98H272.66M274.85,257.51V260.85M273.95,257.51H275.75M273.95,260.85H275.75M277.94,257.64V260.98M277.04,257.64H278.84M277.04,260.98H278.84M281.03,258.00V261.34M280.13,258.00H281.93M280.13,261.34H281.93M284.12,258.56V261.90M283.23,258.56H285.02M283.23,261.90H285.02M287.22,259.27V262.61M286.32,259.27H288.12M286.32,262.61H288.12M290.31,260.11V263.45M289.41,260.11H291.21M289.41,263.45H291.21M293.40,261.04V264.38M292.50,261.04H294.30M292.50,264.38H294.30M296.49,262.52V265.86M295.59,262.52H297.39M295.59,265.86H297.39M299.58,264.64V267.98M298.68,264.64H300.48M298.68,267.98H300.48M302.68,266.79V270.13M301.78,266.79H303.57M301.78,270.13H303.57M305.77,268.75V272.09M304.87,268.75H306.67M304.87,272.09H306.67M308.86,270.74V274.08M307.96,270.74H309.76M307.96,274.08H309.76M311.95,272.72V276.06M311.05,272.72H312.85M311.05,276.06H312.85" stroke="#d8357c" stroke-width="0.5" fill="none"/>
<path d="M219.20,297.39L222.29,280.48L225.38,271.28L228.47,266.97L231.57,266.05L234.66,265.52L237.75,265.11L240.84,264.58L243.93,263.95L247.02,263.32L250.12,262.69L253.21,262.10L256.30,261.52L259.39,260.96L262.48,260.46L265.57,260.05L268.67,259.64L271.76,259.31L274.85,259.18L277.94,259.31L281.03,259.67L284.12,260.23L287.22,260.94L290.31,261.78L293.40,262.71L296.49,264.19L299.58,266.31L302.68,268.46L305.77,270.42L308.86,272.41L311.95,274.39" stroke="#d8357c" stroke-width="0.7" fill="none" stroke-dasharray="1.5,1"/>
<path d="M219.20,298.83L220.64,296.36L217.76,296.36Z" fill="#a3145a"/><path d="M222.29,281.92L223.73,279.44L220.85,279.44Z" fill="#a3145a"/><path d="M225.38,272.72L226.82,270.24L223.95,270.24Z" fill="#a3145a"/><path d="M228.47,268.41L229.91,265.94L227.04,265.94Z" fill="#a3145a"/><path d="M231.57,267.48L233.00,265.01L230.13,265.01Z" fill="#a3145a"/><path d="M234.66,266.96L236.10,264.48L233.22,264.48Z" fill="#a3145a"/><path d="M237.75,266.55L239.19,264.08L236.31,264.08Z" fill="#a3145a"/><path d="M240.84,266.01L242.28,263.54L239.40,263.54Z" fill="#a3145a"/><path d="M243.93,265.39L245.37,262.91L242.50,262.91Z" fill="#a3145a"/><path d="M247.02,264.75L248.46,262.28L245.59,262.28Z" fill="#a3145a"/><path d="M250.12,264.13L251.55,261.66L248.68,261.66Z" fill="#a3145a"/><path d="M253.21,263.54L254.65,261.07L251.77,261.07Z" fill="#a3145a"/><path d="M256.30,262.96L257.74,260.49L254.86,260.49Z" fill="#a3145a"/><path d="M259.39,262.40L260.83,259.92L257.95,259.92Z" fill="#a3145a"/><path d="M262.48,261.90L263.92,259.43L261.05,259.43Z" fill="#a3145a"/><path d="M265.57,261.49L267.01,259.01L264.14,259.01Z" fill="#a3145a"/><path d="M268.67,261.07L270.10,258.60L267.23,258.60Z" fill="#a3145a"/><path d="M271.76,260.75L273.20,258.28L270.32,258.28Z" fill="#a3145a"/><path d="M274.85,260.62L276.29,258.15L273.41,258.15Z" fill="#a3145a"/><path d="M277.94,260.75L279.38,258.28L276.50,258.28Z" fill="#a3145a"/><path d="M281.03,261.11L282.47,258.64L279.60,258.64Z" fill="#a3145a"/><path d="M284.12,261.67L285.56,259.19L282.69,259.19Z" fill="#a3145a"/><path d="M287.22,262.38L288.65,259.91L285.78,259.91Z" fill="#a3145a"/><path d="M290.31,263.22L291.75,260.75L288.87,260.75Z" fill="#a3145a"/><path d="M293.40,264.14L294.84,261.67L291.96,261.67Z" fill="#a3145a"/><path d="M296.49,265.63L297.93,263.15L295.05,263.15Z" fill="#a3145a"/><path d="M299.58,267.75L301.02,265.28L298.15,265.28Z" fill="#a3145a"/><path d="M302.68,269.89L304.11,267.42L301.24,267.42Z" fill="#a3145a"/><path d="M305.77,271.86L307.20,269.39L304.33,269.39Z" fill="#a3145a"/><path d="M308.86,273.84L310.30,271.37L307.42,271.37Z" fill="#a3145a"/><path d="M311.95,275.83L313.39,273.36L310.51,273.36Z" fill="#a3145a"/>
<path d="M219.20,294.06V300.73M218.30,294.06H220.10M218.30,300.73H220.10M222.29,284.06V290.89M221.39,284.06H223.19M221.39,290.89H223.19M225.38,279.85V286.83M224.48,279.85H226.28M224.48,286.83H226.28M228.47,278.63V285.75M227.57,278.63H229.38M227.57,285.75H229.38M231.57,278.64V285.91M230.67,278.64H232.47M230.67,285.91H232.47M234.66,278.73V286.15M233.76,278.73H235.56M233.76,286.15H235.56M237.75,278.85V286.42M236.85,278.85H238.65M236.85,286.42H238.65M240.84,278.95V286.67M239.94,278.95H241.74M239.94,286.67H241.74M243.93,278.98V286.85M243.03,278.98H244.83M243.03,286.85H244.83M247.02,278.84V286.86M246.12,278.84H247.92M246.12,286.86H247.92M250.12,278.37V286.53M249.22,278.37H251.02M249.22,286.53H251.02M253.21,277.66V285.97M252.31,277.66H254.11M252.31,285.97H254.11M256.30,276.84V285.30M255.40,276.84H257.20M255.40,285.30H257.20M259.39,275.70V284.31M258.49,275.70H260.29M258.49,284.31H260.29M262.48,274.16V282.91M261.58,274.16H263.38M261.58,282.91H263.38M265.57,272.54V281.44M264.68,272.54H266.47M264.68,281.44H266.47M268.67,270.93V279.98M267.77,270.93H269.57M267.77,279.98H269.57M271.76,269.23V278.43M270.86,269.23H272.66M270.86,278.43H272.66M274.85,267.49V276.84M273.95,267.49H275.75M273.95,276.84H275.75M277.94,265.69V275.18M277.04,265.69H278.84M277.04,275.18H278.84M281.03,263.84V273.48M280.13,263.84H281.93M280.13,273.48H281.93M284.12,262.08V271.87M283.23,262.08H285.02M283.23,271.87H285.02M287.22,260.19V270.13M286.32,260.19H288.12M286.32,270.13H288.12M290.31,258.38V268.47M289.41,258.38H291.21M289.41,268.47H291.21M293.40,257.40V267.64M292.50,257.40H294.30M292.50,267.64H294.30M296.49,257.13V267.52M295.59,257.13H297.39M295.59,267.52H297.39M299.58,256.93V267.46M298.68,256.93H300.48M298.68,267.46H300.48M302.68,256.81V267.49M301.78,256.81H303.57M301.78,267.49H303.57M305.77,257.08V267.91M304.87,257.08H306.67M304.87,267.91H306.67M308.86,257.76V268.74M307.96,257.76H309.76M307.96,268.74H309.76M311.95,258.44V269.57M311.05,258.44H312.85M311.05,269.57H312.85" stroke="#12304f" stroke-width="0.5" fill="none"/>
<path d="M219.20,297.39L222.29,287.47L225.38,283.34L228.47,282.19L231.57,282.28L234.66,282.44L237.75,282.64L240.84,282.81L243.93,282.92L247.02,282.85L250.12,282.45L253.21,281.82L256.30,281.07L259.39,280.00L262.48,278.53L265.57,276.99L268.67,275.46L271.76,273.83L274.85,272.17L277.94,270.43L281.03,268.66L284.12,266.97L287.22,265.16L290.31,263.42L293.40,262.52L296.49,262.32L299.58,262.20L302.68,262.15L305.77,262.49L308.86,263.25L311.95,264.00" stroke="#12304f" stroke-width="0.7" fill="none"/>
<circle cx="219.20" cy="297.39" r="1.15" fill="#12304f"/><circle cx="222.29" cy="287.47" r="1.15" fill="#12304f"/><circle cx="225.38" cy="283.34" r="1.15" fill="#12304f"/><circle cx="228.47" cy="282.19" r="1.15" fill="#12304f"/><circle cx="231.57" cy="282.28" r="1.15" fill="#12304f"/><circle cx="234.66" cy="282.44" r="1.15" fill="#12304f"/><circle cx="237.75" cy="282.64" r="1.15" fill="#12304f"/><circle cx="240.84" cy="282.81" r="1.15" fill="#12304f"/><circle cx="243.93" cy="282.92" r="1.15" fill="#12304f"/><circle cx="247.02" cy="282.85" r="1.15" fill="#12304f"/><circle cx="250.12" cy="282.45" r="1.15" fill="#12304f"/><circle cx="253.21" cy="281.82" r="1.15" fill="#12304f"/><circle cx="256.30" cy="281.07" r="1.15" fill="#12304f"/><circle cx="259.39" cy="280.00" r="1.15" fill="#12304f"/><circle cx="262.48" cy="278.53" r="1.15" fill="#12304f"/><circle cx="265.57" cy="276.99" r="1.15" fill="#12304f"/><circle cx="268.67" cy="275.46" r="1.15" fill="#12304f"/><circle cx="271.76" cy="273.83" r="1.15" fill="#12304f"/><circle cx="274.85" cy="272.17" r="1.15" fill="#12304f"/><circle cx="277.94" cy="270.43" r="1.15" fill="#12304f"/><circle cx="281.03" cy="268.66" r="1.15" fill="#12304f"/><circle cx="284.12" cy="266.97" r="1.15" fill="#12304f"/><circle cx="287.22" cy="265.16" r="1.15" fill="#12304f"/><circle cx="290.31" cy="263.42" r="1.15" fill="#12304f"/><circle cx="293.40" cy="262.52" r="1.15" fill="#12304f"/><circle cx="296.49" cy="262.32" r="1.15" fill="#12304f"/><circle cx="299.58" cy="262.20" r="1.15" fill="#12304f"/><circle cx="302.68" cy="262.15" r="1.15" fill="#12304f"/><circle cx="305.77" cy="262.49" r="1.15" fill="#12304f"/><circle cx="308.86" cy="263.25" r="1.15" fill="#12304f"/><circle cx="311.95" cy="264.00" r="1.15" fill="#12304f"/>
<path d="M219.20,295.73V299.06M218.30,295.73H220.10M218.30,299.06H220.10M222.29,279.20V282.54M221.39,279.20H223.19M221.39,282.54H223.19M225.38,269.96V273.30M224.48,269.96H226.28M224.48,273.30H226.28M228.47,265.67V269.01M227.57,265.67H229.38M227.57,269.01H229.38M231.57,265.39V268.73M230.67,265.39H232.47M230.67,268.73H232.47M234.66,265.26V268.60M233.76,265.26H235.56M233.76,268.60H235.56M237.75,265.17V268.51M236.85,265.17H238.65M236.85,268.51H238.65M240.84,264.99V268.33M239.94,264.99H241.74M239.94,268.33H241.74M243.93,264.45V267.79M243.03,264.45H244.83M243.03,267.79H244.83M247.02,263.45V266.79M246.12,263.45H247.92M246.12,266.79H247.92M250.12,262.48V265.82M249.22,262.48H251.02M249.22,265.82H251.02M253.21,261.83V265.17M252.31,261.83H254.11M252.31,265.17H254.11M256.30,261.26V264.60M255.40,261.26H257.20M255.40,264.60H257.20M259.39,260.75V264.09M258.49,260.75H260.29M258.49,264.09H260.29M262.48,260.29V263.63M261.58,260.29H263.38M261.58,263.63H263.38M265.57,259.82V263.16M264.68,259.82H266.47M264.68,263.16H266.47M268.67,259.32V262.66M267.77,259.32H269.57M267.77,262.66H269.57M271.76,258.91V262.25M270.86,258.91H272.66M270.86,262.25H272.66M274.85,258.74V262.08M273.95,258.74H275.75M273.95,262.08H275.75M277.94,258.76V262.10M277.04,258.76H278.84M277.04,262.10H278.84M281.03,258.82V262.16M280.13,258.82H281.93M280.13,262.16H281.93M284.12,258.92V262.25M283.23,258.92H285.02M283.23,262.25H285.02M287.22,259.04V262.38M286.32,259.04H288.12M286.32,262.38H288.12M290.31,259.19V262.53M289.41,259.19H291.21M289.41,262.53H291.21M293.40,259.37V262.71M292.50,259.37H294.30M292.50,262.71H294.30M296.49,259.70V263.04M295.59,259.70H297.39M295.59,263.04H297.39M299.58,260.29V263.62M298.68,260.29H300.48M298.68,263.62H300.48M302.68,261.03V264.37M301.78,261.03H303.57M301.78,264.37H303.57M305.77,261.87V265.21M304.87,261.87H306.67M304.87,265.21H306.67M308.86,262.70V266.04M307.96,262.70H309.76M307.96,266.04H309.76M311.95,263.45V266.79M311.05,263.45H312.85M311.05,266.79H312.85" stroke="#c00c32" stroke-width="0.5" fill="none"/>
<path d="M219.20,297.39L222.29,280.87L225.38,271.63L228.47,267.34L231.57,267.06L234.66,266.93L237.75,266.84L240.84,266.66L243.93,266.12L247.02,265.12L250.12,264.15L253.21,263.50L256.30,262.93L259.39,262.42L262.48,261.96L265.57,261.49L268.67,260.99L271.76,260.58L274.85,260.41L277.94,260.43L281.03,260.49L284.12,260.59L287.22,260.71L290.31,260.86L293.40,261.04L296.49,261.37L299.58,261.95L302.68,262.70L305.77,263.54L308.86,264.37L311.95,265.12" stroke="#c00c32" stroke-width="0.7" fill="none"/>
<rect x="218.05" y="296.25" width="2.30" height="2.30" fill="#c00c32"/><rect x="221.14" y="279.72" width="2.30" height="2.30" fill="#c00c32"/><rect x="224.23" y="270.48" width="2.30" height="2.30" fill="#c00c32"/><rect x="227.32" y="266.19" width="2.30" height="2.30" fill="#c00c32"/><rect x="230.42" y="265.91" width="2.30" height="2.30" fill="#c00c32"/><rect x="233.51" y="265.78" width="2.30" height="2.30" fill="#c00c32"/><rect x="236.60" y="265.69" width="2.30" height="2.30" fill="#c00c32"/><rect x="239.69" y="265.51" width="2.30" height="2.30" fill="#c00c32"/><rect x="242.78" y="264.97" width="2.30" height="2.30" fill="#c00c32"/><rect x="245.87" y="263.97" width="2.30" height="2.30" fill="#c00c32"/><rect x="248.97" y="263.00" width="2.30" height="2.30" fill="#c00c32"/><rect x="252.06" y="262.35" width="2.30" height="2.30" fill="#c00c32"/><rect x="255.15" y="261.78" width="2.30" height="2.30" fill="#c00c32"/><rect x="258.24" y="261.27" width="2.30" height="2.30" fill="#c00c32"/><rect x="261.33" y="260.81" width="2.30" height="2.30" fill="#c00c32"/><rect x="264.43" y="260.34" width="2.30" height="2.30" fill="#c00c32"/><rect x="267.52" y="259.84" width="2.30" height="2.30" fill="#c00c32"/><rect x="270.61" y="259.43" width="2.30" height="2.30" fill="#c00c32"/><rect x="273.70" y="259.26" width="2.30" height="2.30" fill="#c00c32"/><rect x="276.79" y="259.28" width="2.30" height="2.30" fill="#c00c32"/><rect x="279.88" y="259.34" width="2.30" height="2.30" fill="#c00c32"/><rect x="282.98" y="259.44" width="2.30" height="2.30" fill="#c00c32"/><rect x="286.07" y="259.56" width="2.30" height="2.30" fill="#c00c32"/><rect x="289.16" y="259.71" width="2.30" height="2.30" fill="#c00c32"/><rect x="292.25" y="259.89" width="2.30" height="2.30" fill="#c00c32"/><rect x="295.34" y="260.22" width="2.30" height="2.30" fill="#c00c32"/><rect x="298.43" y="260.80" width="2.30" height="2.30" fill="#c00c32"/><rect x="301.53" y="261.55" width="2.30" height="2.30" fill="#c00c32"/><rect x="304.62" y="262.39" width="2.30" height="2.30" fill="#c00c32"/><rect x="307.71" y="263.22" width="2.30" height="2.30" fill="#c00c32"/><rect x="310.80" y="263.97" width="2.30" height="2.30" fill="#c00c32"/>
<path d="M218.0,353.30H228.3" stroke="#12304f" stroke-width="1"/>
<circle cx="223.20" cy="353.30" r="1.9" fill="#12304f"/>
<text x="231.90" y="355.70" font-size="7.0" text-anchor="start" fill="#2b2b2b" stroke="#2b2b2b" stroke-width="0.15" textLength="21.0" lengthAdjust="spacingAndGlyphs" >HC mix</text>
<path d="M218.0,363.40H228.3" stroke="#c00c32" stroke-width="1"/>
<rect x="221.30" y="361.50" width="3.80" height="3.80" fill="#c00c32"/>
<text x="231.90" y="365.80" font-size="7.0" text-anchor="start" fill="#2b2b2b" stroke="#2b2b2b" stroke-width="0.15" textLength="29.3" lengthAdjust="spacingAndGlyphs" >HI HC mix</text>
<path d="M218.0,373.50H228.3" stroke="#6ccfe6" stroke-width="1" stroke-dasharray="1.6,0.8"/>
<path d="M223.20,371.12L225.57,375.21L220.82,375.21Z" fill="#4ab4d2"/>
<text x="231.90" y="375.90" font-size="7.0" text-anchor="start" fill="#2b2b2b" stroke="#2b2b2b" stroke-width="0.15" textLength="94.3" lengthAdjust="spacingAndGlyphs" >CM06 presensitization + HC mix</text>
<path d="M218.0,383.60H228.3" stroke="#d8357c" stroke-width="1" stroke-dasharray="1.6,0.8"/>
<path d="M223.20,385.98L225.57,381.89L220.82,381.89Z" fill="#a3145a"/>
<text x="231.90" y="386.00" font-size="7.0" text-anchor="start" fill="#2b2b2b" stroke="#2b2b2b" stroke-width="0.15" textLength="102.8" lengthAdjust="spacingAndGlyphs" >CM06 presensitization + HI HC mix</text>
</svg>
</body></html>
